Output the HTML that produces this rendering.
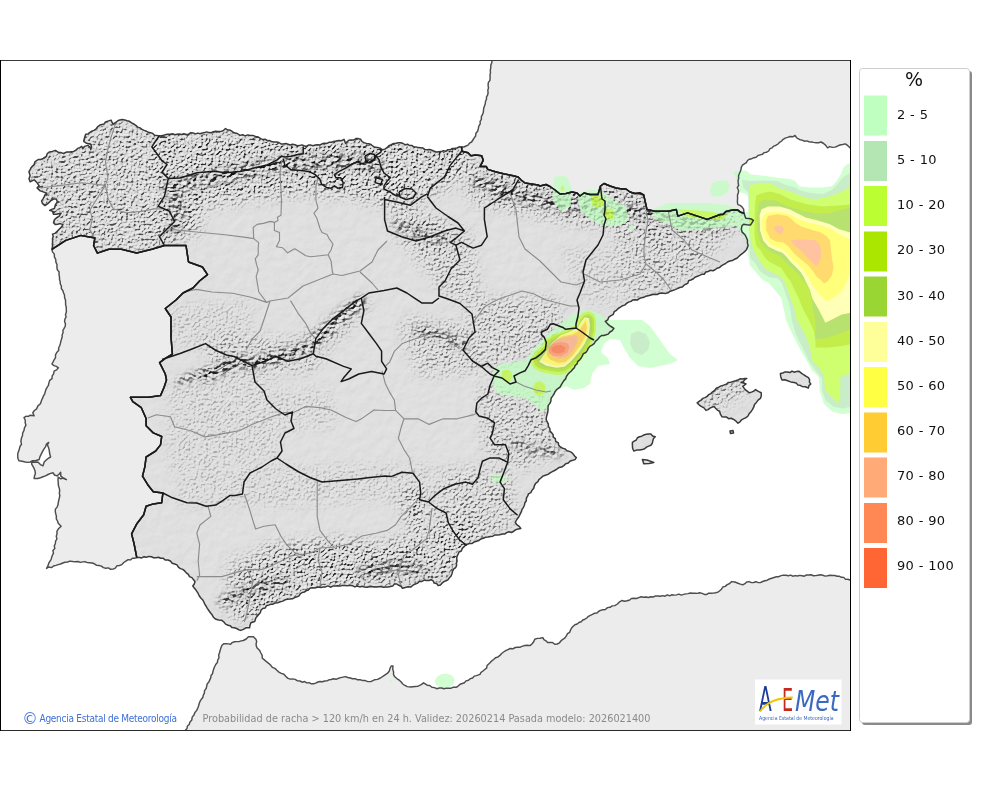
<!DOCTYPE html>
<html><head><meta charset="utf-8"><title>AEMET</title>
<style>
html,body{margin:0;padding:0;background:#fff;width:1000px;height:790px;overflow:hidden}
svg{display:block}
.lt{font-family:"DejaVu Sans",sans-serif;font-size:13px;fill:#111;letter-spacing:0.35px}
.ft{font-family:"DejaVu Sans",sans-serif;font-size:10px}
</style></head><body>
<svg width="1000" height="790" viewBox="0 0 1000 790">
<defs>
<clipPath id="mc"><rect x="1" y="61" width="849" height="669"/></clipPath>
<clipPath id="sc"><path d="M51.9,249.3 L52.5,246.4 L52.4,243.9 L52.6,241.3 L52.5,238.8 L53.2,236.4 L52.5,234.1 L55.4,233.1 L58.2,230.3 L61.1,227.4 L63.0,224.6 L60.1,223.6 L57.8,224.2 L55.4,224.6 L53.5,222.7 L54.4,219.8 L56.3,218.0 L59.2,216.1 L61.1,213.2 L58.7,213.7 L56.3,214.2 L53.5,214.2 L52.5,211.3 L49.7,210.4 L51.6,209.4 L54.4,208.5 L55.4,204.7 L57.3,201.8 L56.3,199.0 L53.5,199.0 L50.6,200.9 L47.8,203.7 L44.9,205.6 L42.6,203.7 L41.6,200.9 L42.9,199.1 L44.0,197.1 L45.0,194.9 L46.8,193.3 L43.2,191.9 L40.2,190.9 L37.1,187.9 L39.2,185.9 L37.1,182.8 L34.1,179.8 L32.1,180.8 L30.1,181.8 L29.0,178.8 L30.1,175.7 L29.0,171.7 L30.2,169.7 L31.1,167.6 L34.1,164.6 L35.1,161.6 L38.2,159.5 L40.8,159.5 L43.2,158.5 L46.3,156.5 L47.3,153.5 L49.5,151.9 L52.3,151.4 L55.4,150.4 L58.4,152.4 L61.0,152.6 L63.5,153.5 L66.3,152.1 L69.5,151.9 L73.6,151.4 L75.9,150.3 L77.6,148.4 L79.8,147.7 L81.7,146.4 L82.7,148.4 L84.7,146.4 L87.8,145.4 L89.9,147.0 L90.8,149.4 L91.6,146.9 L90.8,144.4 L86.7,143.3 L83.7,141.3 L84.7,137.3 L85.7,134.2 L88.1,133.9 L89.9,132.4 L91.8,131.2 L93.9,130.4 L95.9,129.2 L97.5,126.8 L99.9,125.1 L104.0,124.1 L105.5,122.0 L108.0,121.1 L111.0,120.1 L112.0,122.1 L113.1,124.1 L116.1,122.1 L118.9,120.2 L122.2,119.6 L124.7,119.9 L127.0,120.8 L129.5,121.3 L131.6,122.8 L133.7,124.0 L135.8,125.3 L137.6,127.1 L140.0,127.9 L142.0,129.3 L144.2,130.4 L146.3,131.2 L148.3,132.3 L150.6,132.8 L152.8,133.4 L154.5,135.3 L156.9,135.4 L159.2,136.1 L161.4,135.7 L163.6,135.3 L165.8,134.6 L168.0,134.3 L170.3,134.3 L172.5,133.8 L174.8,134.8 L177.0,134.2 L179.3,133.9 L181.6,134.5 L183.9,133.7 L186.3,134.5 L188.6,134.2 L190.8,132.7 L193.1,132.9 L195.5,133.9 L197.8,133.1 L200.1,133.8 L202.4,132.9 L204.6,132.6 L206.7,131.9 L209.0,132.6 L211.2,132.7 L213.4,131.7 L215.6,131.3 L217.8,131.5 L220.0,131.6 L223.1,130.7 L225.5,128.5 L227.4,129.9 L230.0,130.1 L232.1,131.4 L234.0,132.8 L237.3,133.5 L240.0,135.4 L242.6,134.7 L245.1,135.9 L247.7,134.9 L250.2,135.5 L252.8,135.4 L255.5,136.4 L258.3,137.1 L260.8,138.6 L262.9,139.6 L265.4,139.3 L267.5,140.7 L269.9,140.6 L272.0,141.8 L274.3,142.0 L276.6,142.0 L278.9,142.5 L281.0,143.9 L283.4,144.0 L285.8,143.5 L288.0,144.2 L290.2,145.0 L292.6,144.2 L294.9,144.7 L297.1,145.7 L299.4,145.6 L301.8,144.9 L304.0,145.8 L306.3,146.5 L308.5,145.1 L310.8,145.1 L313.2,145.8 L315.4,145.0 L317.7,144.8 L320.0,145.0 L322.1,143.8 L324.4,143.2 L326.9,143.4 L329.0,142.3 L331.5,142.3 L333.7,141.4 L336.0,141.0 L338.7,140.4 L341.5,140.7 L344.0,139.4 L345.6,143.4 L347.2,141.8 L348.8,140.2 L351.2,139.9 L353.7,140.0 L355.9,138.5 L358.4,138.6 L360.7,139.3 L362.1,141.6 L364.1,142.6 L366.4,143.4 L368.8,143.8 L371.0,144.5 L373.0,146.2 L375.1,147.3 L377.6,147.4 L380.2,148.2 L382.4,149.8 L384.9,149.1 L387.0,147.7 L388.8,145.8 L391.3,144.7 L393.6,143.4 L396.0,143.3 L398.4,142.8 L400.8,142.7 L403.2,143.5 L405.1,144.8 L407.6,144.2 L409.5,145.5 L411.8,145.4 L413.7,146.8 L416.0,146.9 L418.2,147.6 L420.6,147.7 L423.0,148.1 L425.0,149.6 L427.4,149.8 L429.8,149.5 L432.0,150.2 L434.2,151.1 L436.4,152.0 L438.8,151.8 L441.1,151.6 L443.3,150.7 L445.8,151.3 L447.8,149.7 L450.2,149.8 L452.3,148.5 L454.7,148.3 L457.0,148.0 L459.1,146.8 L461.6,146.9 L461.9,151.2 L468.0,152.7 L471.0,155.7 L475.6,155.0 L481.7,155.7 L483.2,160.3 L480.2,166.4 L486.2,166.4 L487.8,169.4 L495.3,171.7 L504.5,174.0 L512.1,175.5 L518.1,177.0 L521.2,180.0 L525.0,183.0 L538.0,185.0 L540.0,186.0 L546.0,184.5 L550.0,186.5 L555.0,190.0 L560.0,194.0 L566.0,193.5 L572.0,192.0 L577.0,193.0 L580.0,196.0 L584.0,193.0 L590.0,194.5 L598.0,194.5 L600.5,186.0 L604.0,183.5 L610.0,186.0 L616.0,188.0 L622.0,189.0 L626.0,189.0 L630.0,192.0 L635.0,193.5 L640.0,193.0 L643.7,195.0 L647.0,209.6 L655.1,211.3 L668.1,211.3 L676.3,209.6 L677.9,216.1 L687.6,212.9 L697.4,216.1 L707.2,219.4 L720.2,214.5 L723.0,214.4 L726.1,211.4 L729.9,210.6 L733.7,209.9 L737.5,209.9 L740.5,212.2 L744.0,213.0 L744.7,215.2 L745.8,218.2 L748.9,218.6 L751.2,219.0 L753.4,220.4 L751.9,222.8 L750.4,225.1 L746.6,224.7 L743.6,224.3 L742.0,225.8 L741.3,228.9 L742.0,231.9 L745.1,235.0 L746.6,238.0 L747.5,240.2 L747.4,242.6 L748.1,245.6 L746.6,249.4 L744.8,251.4 L742.8,253.2 L740.8,254.6 L739.0,256.2 L737.0,258.2 L734.4,259.3 L732.3,260.6 L729.8,261.0 L727.5,262.0 L725.6,263.5 L723.4,264.6 L721.3,265.9 L719.4,267.6 L717.0,268.2 L715.1,269.8 L712.9,270.7 L710.2,270.3 L708.2,271.5 L705.8,272.0 L704.2,274.3 L701.7,274.3 L699.6,275.4 L697.4,276.3 L695.0,277.2 L693.1,279.0 L690.8,280.0 L688.6,280.8 L687.8,283.4 L685.7,284.2 L683.8,285.4 L682.3,287.1 L679.7,287.5 L677.4,288.6 L675.0,289.6 L672.6,290.5 L670.1,291.2 L668.0,292.8 L665.8,293.4 L663.5,293.2 L661.3,293.1 L659.1,293.5 L657.0,294.5 L654.7,294.3 L652.4,294.5 L650.3,295.3 L648.1,295.7 L645.9,296.2 L643.9,297.3 L641.6,297.7 L639.5,298.4 L637.6,299.9 L635.2,299.8 L632.9,299.9 L631.0,301.4 L628.6,302.1 L626.6,303.4 L624.7,305.1 L622.3,305.8 L620.3,307.2 L618.2,308.5 L616.5,310.3 L614.2,311.7 L613.3,314.3 L611.0,315.6 L608.8,317.2 L607.7,319.9 L605.3,321.3 L607.3,323.6 L609.6,325.6 L611.8,327.0 L613.9,328.4 L612.3,330.6 L609.9,332.0 L608.2,334.1 L606.1,334.8 L603.8,335.4 L601.5,335.6 L599.6,337.0 L597.8,339.4 L595.4,341.3 L594.1,343.6 L592.0,345.1 L589.8,346.4 L588.2,348.4 L587.2,350.6 L585.8,352.5 L583.4,353.7 L582.3,355.8 L581.2,358.0 L579.7,359.8 L577.8,361.3 L577.1,363.8 L575.2,365.3 L574.4,367.7 L572.6,369.4 L571.1,371.2 L569.3,372.8 L567.7,374.6 L566.4,376.5 L565.6,378.9 L563.9,380.6 L562.6,382.6 L561.4,384.7 L560.2,386.8 L558.3,388.3 L556.4,389.9 L555.0,391.8 L554.0,394.0 L552.6,396.1 L551.1,398.2 L550.9,401.0 L549.9,403.4 L548.3,405.4 L548.0,407.8 L548.0,410.2 L547.7,412.5 L547.0,414.8 L546.4,417.1 L546.2,419.5 L547.1,421.7 L548.3,423.8 L548.4,426.4 L549.8,428.4 L550.0,430.9 L551.6,432.8 L553.1,434.7 L553.3,437.2 L555.3,438.7 L555.7,441.5 L558.2,442.6 L558.7,445.2 L560.4,447.0 L562.6,448.2 L565.0,448.9 L566.9,450.7 L569.3,451.4 L571.6,452.4 L573.2,454.1 L574.6,456.0 L576.3,457.6 L575.0,459.6 L572.8,460.3 L570.2,461.0 L568.3,463.0 L565.7,463.8 L563.8,465.6 L561.6,467.1 L558.9,467.6 L556.8,469.1 L554.6,470.5 L552.3,471.6 L550.1,472.9 L548.0,474.4 L545.4,475.2 L542.9,476.1 L540.9,478.0 L538.9,479.6 L537.7,481.9 L535.6,483.3 L534.4,485.7 L533.7,488.3 L532.0,490.4 L530.8,492.7 L528.5,493.9 L527.6,496.1 L526.4,498.2 L526.3,500.8 L524.9,502.8 L524.4,505.2 L523.4,507.3 L522.0,509.4 L521.4,511.7 L520.0,514.3 L518.7,517.0 L516.8,519.5 L515.2,522.3 L516.8,524.6 L519.1,526.3 L520.8,528.4 L518.2,528.9 L515.8,529.7 L513.6,531.3 L511.5,532.5 L508.9,531.7 L506.7,532.6 L504.6,534.1 L502.2,534.1 L499.8,534.7 L497.4,534.9 L495.0,534.9 L492.8,536.2 L490.3,536.4 L488.0,537.0 L485.5,537.3 L483.3,538.3 L480.9,538.9 L478.9,540.5 L476.6,541.3 L474.2,541.9 L472.2,543.4 L469.6,543.5 L467.3,544.2 L465.2,545.5 L463.6,547.1 L462.1,548.7 L461.3,551.0 L459.0,552.0 L458.1,554.1 L457.0,556.3 L456.7,558.6 L457.1,560.9 L456.4,563.2 L456.6,565.5 L455.6,567.7 L453.6,569.2 L452.5,571.3 L452.0,573.7 L451.1,576.0 L449.4,577.7 L448.1,579.7 L446.1,580.8 L443.9,581.6 L442.1,583.1 L440.5,584.9 L438.1,585.4 L436.6,583.6 L434.1,583.1 L433.1,580.8 L431.0,579.7 L428.8,580.5 L426.5,580.6 L424.1,580.1 L422.0,581.5 L419.6,581.2 L417.8,583.1 L415.3,584.0 L413.0,585.2 L411.0,586.9 L408.1,586.8 L405.3,587.5 L402.5,588.3 L401.0,586.3 L398.7,585.4 L396.8,584.0 L394.4,584.0 L392.7,586.1 L390.5,586.6 L388.2,586.9 L385.8,586.9 L383.5,587.2 L381.1,586.5 L378.7,586.7 L376.4,586.9 L374.0,586.9 L371.6,586.4 L369.2,586.8 L366.9,587.2 L364.5,587.1 L362.1,586.3 L359.7,586.9 L357.3,586.0 L354.8,586.9 L352.4,585.7 L350.0,585.3 L347.5,585.8 L345.1,585.5 L342.6,585.4 L340.2,586.1 L337.7,585.8 L335.3,586.0 L332.8,586.1 L330.5,587.2 L327.9,585.9 L325.5,586.9 L323.3,587.1 L321.1,587.5 L318.8,587.0 L316.6,587.6 L314.4,587.9 L312.1,587.8 L309.9,588.3 L308.4,590.1 L306.2,590.7 L304.4,592.1 L302.1,592.5 L300.3,593.8 L299.0,595.9 L297.0,596.8 L294.6,597.6 L292.4,598.8 L289.9,599.1 L287.4,599.2 L285.0,599.8 L282.8,601.1 L280.2,601.8 L277.7,602.7 L275.0,603.0 L273.0,604.2 L270.7,604.2 L268.6,605.1 L266.3,605.8 L265.1,608.1 L262.7,608.5 L261.0,610.1 L260.4,612.4 L258.9,614.2 L257.5,616.0 L255.9,617.7 L254.7,621.5 L250.9,622.8 L250.0,625.2 L249.6,627.8 L245.8,627.8 L243.4,629.4 L240.8,630.4 L238.6,629.7 L236.6,628.5 L234.4,627.8 L232.1,627.6 L230.3,625.8 L228.1,625.3 L225.6,624.1 L223.9,622.0 L221.8,620.3 L218.5,620.0 L215.4,619.0 L213.4,617.2 L212.1,614.8 L210.4,612.7 L208.8,610.5 L207.3,608.3 L206.0,606.0 L204.8,604.1 L203.9,602.0 L202.8,600.0 L200.8,598.0 L199.2,595.7 L198.0,593.2 L196.8,591.3 L195.5,589.4 L194.1,587.7 L192.7,585.9 L194.3,584.0 L195.0,581.5 L193.4,579.6 L191.9,577.6 L189.5,576.6 L188.3,574.3 L186.3,572.8 L184.7,570.9 L182.8,569.4 L180.3,568.6 L178.4,567.2 L177.0,564.9 L174.7,564.0 L172.2,563.2 L170.4,561.0 L168.0,560.0 L165.1,559.9 L163.0,558.2 L160.6,558.3 L158.4,557.3 L156.0,557.7 L153.6,557.7 L151.4,556.8 L148.9,556.4 L146.5,557.2 L144.1,556.7 L141.7,557.9 L139.2,557.6 L136.8,557.6 L134.0,543.5 L131.6,533.9 L136.5,524.3 L143.7,514.7 L146.1,506.3 L153.3,503.9 L161.7,502.7 L162.9,493.0 L153.3,491.8 L148.5,485.8 L142.5,476.2 L144.9,466.6 L146.1,457.0 L155.7,451.0 L160.5,444.9 L161.7,436.5 L153.3,432.9 L146.1,425.7 L146.1,418.5 L141.3,407.7 L132.8,401.6 L130.4,397.3 L148.5,397.3 L160.5,395.6 L164.1,387.2 L166.5,380.0 L165.3,374.0 L159.6,362.6 L165.3,358.4 L172.4,354.1 L171.0,337.0 L171.0,317.0 L165.3,308.5 L176.0,300.0 L183.0,293.0 L193.0,288.0 L199.5,281.0 L207.5,274.6 L202.4,267.0 L188.5,262.0 L186.0,245.5 L164.5,245.5 L151.8,249.3 L136.6,253.1 L121.5,249.3 L108.8,249.3 L97.4,253.1 L93.6,245.5 L94.9,237.9 L81.0,235.4 L65.8,240.4 L51.9,249.3 Z M697.2,402.9 L699.1,401.4 L701.1,400.1 L702.8,398.4 L705.0,397.6 L707.1,396.4 L708.7,394.6 L710.8,393.6 L712.6,391.8 L714.7,390.3 L716.3,388.2 L718.8,387.2 L721.1,385.9 L723.7,385.1 L726.3,384.3 L728.4,382.4 L730.9,382.2 L733.3,381.4 L735.6,380.8 L738.0,380.0 L740.1,378.8 L742.4,378.9 L744.6,378.6 L746.8,378.4 L744.8,379.5 L743.4,381.6 L741.2,382.4 L743.7,383.0 L746.0,384.0 L742.8,386.4 L745.2,389.6 L747.2,391.2 L749.2,392.8 L751.5,392.1 L753.7,391.1 L755.6,389.6 L758.3,391.4 L761.2,392.8 L761.3,395.7 L760.4,398.4 L758.1,400.1 L756.4,402.4 L754.5,404.5 L753.7,407.2 L752.4,409.6 L751.0,411.7 L749.2,413.6 L748.0,416.0 L746.0,417.6 L743.8,418.7 L741.6,419.8 L740.0,421.8 L738.0,423.2 L735.8,420.9 L733.2,419.2 L731.1,418.2 L728.6,418.7 L726.6,417.1 L724.3,417.1 L722.0,416.8 L720.4,414.2 L719.6,411.2 L717.3,410.1 L715.6,408.3 L714.0,406.4 L711.9,407.3 L709.9,408.1 L708.1,409.6 L706.0,410.4 L704.0,407.9 L701.2,406.4 L699.1,404.8 L697.2,402.9 Z M780.4,373.6 L782.8,373.0 L785.1,371.9 L787.6,372.0 L789.9,372.6 L792.0,371.1 L794.4,372.2 L796.6,371.4 L798.8,371.2 L802.0,373.6 L804.1,375.0 L806.2,376.3 L808.4,377.6 L809.6,379.6 L809.4,382.1 L810.8,384.0 L808.9,385.6 L808.4,388.0 L805.3,386.7 L802.0,386.4 L800.1,385.3 L797.7,384.9 L796.2,382.9 L794.0,382.4 L790.7,381.9 L787.6,380.8 L784.9,379.8 L782.0,380.0 L780.8,376.9 L780.4,373.6 Z M632.4,442.4 L634.2,441.1 L636.3,440.0 L637.4,437.7 L639.5,436.7 L641.8,436.2 L643.9,434.9 L646.2,434.3 L648.5,434.0 L650.9,433.9 L652.6,436.0 L655.2,436.7 L653.5,438.5 L652.8,440.9 L652.3,443.3 L650.9,445.3 L648.7,446.1 L646.5,447.1 L644.6,448.7 L642.4,449.6 L639.5,449.9 L636.6,450.1 L633.8,451.0 L632.6,448.3 L632.4,445.3 L632.4,442.4 Z M642.4,459.5 L647.0,460.0 L653.8,462.4 L649.0,463.5 L643.8,463.8 Z M730.0,431.0 L733.0,430.5 L733.5,433.0 L730.5,433.5 Z"/></clipPath>
<filter id="relief" x="0" y="60" width="850" height="670" filterUnits="userSpaceOnUse" color-interpolation-filters="sRGB">
 <feTurbulence type="fractalNoise" baseFrequency="0.4" numOctaves="3" seed="2"/>
 <feDiffuseLighting surfaceScale="4" diffuseConstant="1" lighting-color="#fff"><feDistantLight azimuth="235" elevation="45"/></feDiffuseLighting>
 <feComponentTransfer><feFuncR type="table" tableValues="0.15 0.5 0.76 0.84 0.88 0.94"/><feFuncG type="table" tableValues="0.15 0.5 0.76 0.84 0.88 0.94"/><feFuncB type="table" tableValues="0.15 0.5 0.76 0.84 0.88 0.94"/></feComponentTransfer>
</filter>
<filter id="relief2" x="0" y="60" width="850" height="670" filterUnits="userSpaceOnUse" color-interpolation-filters="sRGB">
 <feTurbulence type="fractalNoise" baseFrequency="0.1" numOctaves="4" seed="5"/>
 <feDiffuseLighting surfaceScale="1.2" diffuseConstant="1" lighting-color="#fff"><feDistantLight azimuth="235" elevation="55"/></feDiffuseLighting>
 <feComponentTransfer><feFuncR type="table" tableValues="0.6 0.8 0.84 0.87 0.9"/><feFuncG type="table" tableValues="0.6 0.8 0.84 0.87 0.9"/><feFuncB type="table" tableValues="0.6 0.8 0.84 0.87 0.9"/></feComponentTransfer>
</filter>
<filter id="relief3" x="0" y="60" width="850" height="670" filterUnits="userSpaceOnUse" color-interpolation-filters="sRGB">
 <feTurbulence type="fractalNoise" baseFrequency="0.2 0.3" numOctaves="4" seed="9"/>
 <feDiffuseLighting surfaceScale="5" diffuseConstant="1" lighting-color="#fff"><feDistantLight azimuth="235" elevation="40"/></feDiffuseLighting>
 <feComponentTransfer><feFuncR type="table" tableValues="0.05 0.3 0.6 0.78 0.88 0.95"/><feFuncG type="table" tableValues="0.05 0.3 0.6 0.78 0.88 0.95"/><feFuncB type="table" tableValues="0.05 0.3 0.6 0.78 0.88 0.95"/></feComponentTransfer>
</filter>
<filter id="blur3" x="-20%" y="-20%" width="140%" height="140%"><feGaussianBlur stdDeviation="3"/></filter>
<mask id="ridge" maskUnits="userSpaceOnUse" x="0" y="60" width="850" height="670"><rect x="0" y="60" width="850" height="670" fill="#000"/><g filter="url(#blur3)"><path d="M206.0,378.0 L222.0,367.0 L240.0,362.0 L256.0,363.0 L274.0,358.0 L294.0,353.0 L310.0,346.0 L326.0,331.0 L342.0,316.0 L360.0,302.0" fill="none" stroke="#fff" stroke-width="11" stroke-linecap="round" stroke-linejoin="round"/>
<path d="M180.0,382.0 L198.0,374.0 L215.0,368.0" fill="none" stroke="#fff" stroke-width="6" stroke-linecap="round" stroke-linejoin="round"/>
<path d="M170.0,188.0 L200.0,180.0 L230.0,174.0 L260.0,168.0 L290.0,163.0 L320.0,162.0 L350.0,160.0 L378.0,166.0" fill="none" stroke="#fff" stroke-width="12" stroke-linecap="round" stroke-linejoin="round"/>
<path d="M362.0,572.0 L380.0,568.0 L400.0,566.0 L422.0,569.0" fill="none" stroke="#fff" stroke-width="8" stroke-linecap="round" stroke-linejoin="round"/>
<path d="M478.0,182.0 L520.0,196.0 L560.0,205.0 L600.0,207.0 L640.0,212.0 L680.0,222.0 L720.0,224.0" fill="none" stroke="#fff" stroke-width="10" stroke-linecap="round" stroke-linejoin="round"/>
<path d="M222.0,602.0 L240.0,592.0 L262.0,586.0 L285.0,582.0" fill="none" stroke="#fff" stroke-width="8" stroke-linecap="round" stroke-linejoin="round"/>
<path d="M168.0,190.0 L180.0,210.0 L175.0,230.0" fill="none" stroke="#fff" stroke-width="9" stroke-linecap="round" stroke-linejoin="round"/>
<path d="M396.0,225.0 L420.0,234.0 L445.0,240.0" fill="none" stroke="#fff" stroke-width="7" stroke-linecap="round" stroke-linejoin="round"/>
<path d="M418.0,330.0 L440.0,335.0 L465.0,345.0" fill="none" stroke="#fff" stroke-width="7" stroke-linecap="round" stroke-linejoin="round"/>
<path d="M512.0,442.0 L535.0,450.0 L560.0,453.0" fill="none" stroke="#fff" stroke-width="6" stroke-linecap="round" stroke-linejoin="round"/></g></mask>
<filter id="blur6" x="-20%" y="-20%" width="140%" height="140%"><feGaussianBlur stdDeviation="7"/></filter>
<mask id="mtn" maskUnits="userSpaceOnUse" x="0" y="60" width="850" height="670"><rect x="0" y="60" width="850" height="670" fill="#000"/><g filter="url(#blur6)"><path d="M180.0,470.0 L430.0,465.0 L430.0,495.0 L300.0,505.0 L180.0,505.0 Z" fill="#4a4a4a"/>
<path d="M235.0,395.0 L330.0,390.0 L335.0,425.0 L240.0,432.0 Z" fill="#4a4a4a"/>
<path d="M165.0,310.0 L250.0,300.0 L250.0,340.0 L175.0,345.0 Z" fill="#4a4a4a"/>
<path d="M170.0,380.0 L270.0,380.0 L280.0,460.0 L170.0,470.0 Z" fill="#4a4a4a"/>
<path d="M560.0,250.0 L645.0,255.0 L700.0,275.0 L640.0,300.0 L590.0,305.0 Z" fill="#4a4a4a"/>
<path d="M385.0,195.0 L470.0,235.0 L480.0,300.0 L455.0,300.0 L410.0,250.0 Z" fill="#a0a0a0"/>
<path d="M400.0,320.0 L470.0,325.0 L480.0,370.0 L420.0,375.0 Z" fill="#a0a0a0"/>
<path d="M470.0,300.0 L560.0,300.0 L560.0,330.0 L520.0,360.0 L480.0,370.0 Z" fill="#a0a0a0"/>
<path d="M480.0,385.0 L545.0,395.0 L560.0,450.0 L520.0,470.0 L485.0,450.0 Z" fill="#a0a0a0"/>
<path d="M200.0,340.0 L300.0,340.0 L360.0,300.0 L372.0,300.0 L310.0,370.0 L220.0,375.0 Z" fill="#a0a0a0"/>
<path d="M615.0,222.0 L740.0,215.0 L700.0,270.0 L640.0,300.0 L620.0,260.0 Z" fill="#a0a0a0"/>
<path d="M440.0,470.0 L510.0,470.0 L515.0,525.0 L470.0,545.0 L440.0,520.0 Z" fill="#a0a0a0"/>
<path d="M230.0,560.0 L290.0,555.0 L300.0,590.0 L250.0,620.0 L225.0,605.0 Z" fill="#a0a0a0"/>
<path d="M30.0,150.0 L120.0,118.0 L172.0,130.0 L176.0,250.0 L52.0,252.0 L28.0,200.0 Z" fill="#d0d0d0"/>
<path d="M150.0,128.0 L470.0,138.0 L470.0,172.0 L430.0,195.0 L390.0,205.0 L350.0,196.0 L300.0,192.0 L260.0,198.0 L210.0,205.0 L170.0,200.0 Z" fill="#fff"/>
<path d="M160.0,175.0 L205.0,178.0 L198.0,232.0 L168.0,240.0 Z" fill="#fff"/>
<path d="M470.0,165.0 L600.0,185.0 L745.0,205.0 L740.0,228.0 L650.0,230.0 L580.0,222.0 L520.0,210.0 L470.0,200.0 Z" fill="#fff"/>
<path d="M262.0,548.0 L330.0,540.0 L380.0,545.0 L430.0,530.0 L455.0,515.0 L480.0,520.0 L470.0,550.0 L450.0,580.0 L400.0,585.0 L330.0,588.0 L290.0,598.0 L250.0,622.0 L228.0,612.0 L240.0,585.0 Z" fill="#fff"/>
<path d="M400.0,495.0 L425.0,490.0 L435.0,525.0 L410.0,530.0 Z" fill="#fff"/>
<path d="M700.0,395.0 L750.0,378.0 L745.0,392.0 L710.0,408.0 Z" fill="#fff"/>
<path d="M395.0,215.0 L450.0,225.0 L445.0,245.0 L400.0,240.0 Z" fill="#fff"/></g></mask>
<filter id="sb" x="-5%" y="-5%" width="110%" height="110%"><feGaussianBlur stdDeviation="0.5"/></filter>
<filter id="shadow" x="-10%" y="-10%" width="130%" height="130%">
 <feGaussianBlur in="SourceAlpha" stdDeviation="1.2"/>
 <feOffset dx="2" dy="2" result="o"/>
 <feComponentTransfer><feFuncA type="linear" slope="0.6"/></feComponentTransfer>
 <feMerge><feMergeNode/><feMergeNode in="SourceGraphic"/></feMerge>
</filter>
</defs>
<g clip-path="url(#mc)">
<path d="M51.9,249.3 L52.5,251.9 L54.3,254.1 L54.4,256.9 L55.7,259.3 L55.9,262.1 L57.0,264.5 L56.9,267.1 L57.3,269.7 L59.1,271.9 L59.0,274.6 L59.5,277.1 L59.5,279.4 L60.2,281.7 L60.3,284.0 L61.4,286.1 L61.3,288.5 L62.8,290.6 L63.6,292.9 L64.5,295.1 L64.6,297.7 L65.5,300.0 L65.6,302.4 L65.6,304.9 L66.3,307.3 L66.3,309.7 L66.4,312.1 L65.5,314.6 L66.1,317.0 L64.9,319.1 L64.6,321.4 L65.5,324.0 L65.2,326.2 L64.1,328.4 L62.9,330.4 L63.1,332.7 L62.1,334.7 L62.2,337.0 L61.5,339.1 L60.9,341.2 L60.4,343.4 L59.8,345.5 L58.7,347.8 L58.6,350.6 L56.7,352.5 L55.5,354.8 L55.5,357.6 L54.1,359.8 L53.1,361.9 L51.9,364.0 L53.9,365.6 L56.3,366.4 L58.4,367.8 L56.6,369.9 L54.1,371.2 L53.6,373.8 L52.2,375.9 L52.0,378.6 L49.7,380.4 L48.9,382.9 L48.4,385.4 L47.1,387.3 L46.0,389.3 L45.3,391.6 L44.7,393.8 L43.5,395.8 L42.7,397.9 L41.7,400.0 L40.4,403.8 L37.9,405.9 L36.6,408.9 L34.4,410.5 L32.8,412.7 L34.1,415.8 L30.3,415.2 L28.3,416.4 L25.9,416.3 L24.0,417.7 L25.3,420.3 L25.2,422.8 L25.9,425.3 L24.5,427.7 L24.0,430.4 L22.7,432.8 L22.5,435.5 L21.5,438.0 L20.9,441.1 L21.5,444.3 L20.1,446.2 L19.5,448.4 L18.9,450.6 L17.9,453.1 L17.7,455.7 L17.9,458.3 L18.9,460.8 L22.1,461.3 L25.3,462.0 L27.8,462.4 L30.3,462.0 L32.7,460.7 L35.4,460.8 L39.2,459.5 L39.9,456.9 L41.1,454.4 L43.0,450.6 L44.2,448.7 L45.5,446.8 L46.5,444.1 L48.7,442.4 L47.4,444.9 L48.6,447.7 L49.3,450.6 L49.7,453.8 L50.6,457.0 L48.6,458.1 L46.8,459.5 L44.2,462.0 L43.0,465.8 L40.4,464.6 L37.9,462.0 L34.8,462.4 L31.6,462.0 L31.8,464.4 L33.0,466.4 L34.1,468.4 L35.0,470.8 L35.4,473.4 L34.5,475.9 L34.1,478.5 L37.9,478.5 L40.5,477.7 L43.0,476.8 L45.5,475.9 L48.0,474.5 L50.6,473.4 L53.1,472.8 L54.5,475.0 L56.9,475.9 L59.0,474.2 L60.7,472.2 L60.7,475.9 L62.4,477.4 L64.3,478.8 L66.4,479.7 L63.9,478.1 L60.7,478.8 L58.2,477.2 L58.0,479.8 L58.2,482.3 L58.4,485.5 L59.4,488.6 L59.7,490.9 L59.3,493.2 L59.8,495.5 L59.4,497.7 L58.8,500.0 L58.3,502.4 L58.0,504.8 L57.1,507.1 L55.4,509.1 L55.3,511.6 L55.8,514.0 L56.4,516.3 L56.3,518.8 L57.5,521.0 L58.2,523.3 L61.1,526.2 L58.2,529.1 L56.9,531.4 L57.0,533.9 L56.3,536.3 L56.9,539.0 L55.6,541.2 L55.3,543.7 L54.3,545.9 L54.8,548.5 L52.9,550.5 L53.5,553.1 L52.4,555.3 L51.6,557.4 L51.1,559.6 L49.8,561.4 L48.7,563.4 L48.0,565.5 L46.6,568.4 L48.7,567.0 L51.5,567.6 L53.5,566.0 L55.9,565.4 L58.2,564.6 L60.6,564.0 L62.8,563.0 L65.1,562.2 L67.6,562.0 L69.9,561.1 L72.8,561.5 L75.7,561.7 L78.0,561.5 L80.3,562.4 L82.7,561.9 L85.0,561.6 L87.3,562.6 L89.7,562.8 L92.2,563.0 L94.5,563.8 L96.6,565.3 L99.0,565.5 L101.4,566.1 L103.4,567.6 L105.8,568.2 L108.5,567.9 L110.6,569.3 L113.1,569.1 L115.3,568.1 L116.9,565.8 L119.4,565.5 L121.9,564.6 L123.7,562.5 L125.9,561.1 L128.1,559.7 L130.5,559.9 L132.4,558.3 L134.6,558.2 L136.8,557.6 L134.0,543.5 L131.6,533.9 L136.5,524.3 L143.7,514.7 L146.1,506.3 L153.3,503.9 L161.7,502.7 L162.9,493.0 L153.3,491.8 L148.5,485.8 L142.5,476.2 L144.9,466.6 L146.1,457.0 L155.7,451.0 L160.5,444.9 L161.7,436.5 L153.3,432.9 L146.1,425.7 L146.1,418.5 L141.3,407.7 L132.8,401.6 L130.4,397.3 L148.5,397.3 L160.5,395.6 L164.1,387.2 L166.5,380.0 L165.3,374.0 L159.6,362.6 L165.3,358.4 L172.4,354.1 L171.0,337.0 L171.0,317.0 L165.3,308.5 L176.0,300.0 L183.0,293.0 L193.0,288.0 L199.5,281.0 L207.5,274.6 L202.4,267.0 L188.5,262.0 L186.0,245.5 L164.5,245.5 L151.8,249.3 L136.6,253.1 L121.5,249.3 L108.8,249.3 L97.4,253.1 L93.6,245.5 L94.9,237.9 L81.0,235.4 L65.8,240.4 L51.9,249.3 Z M461.6,146.9 L463.9,147.0 L466.0,146.0 L468.0,145.1 L469.5,143.2 L471.6,142.0 L472.9,140.0 L474.2,137.9 L475.6,136.0 L475.9,133.3 L477.6,131.2 L478.3,128.7 L478.8,126.1 L480.2,123.8 L480.1,121.4 L481.4,119.3 L481.3,116.8 L482.4,114.7 L483.3,112.5 L483.5,110.1 L483.8,107.8 L484.7,105.6 L485.3,103.5 L485.5,101.2 L486.5,99.2 L486.5,96.9 L487.7,94.9 L488.1,92.7 L487.8,90.4 L488.5,87.9 L488.1,85.3 L488.3,82.7 L489.9,80.4 L490.1,77.8 L490.0,75.2 L490.5,72.7 L490.3,70.1 L490.8,67.6 L490.8,65.1 L491.8,62.8 L492.0,60.4 L492.3,58.0 L852.0,58.0 L852.0,147.8 L850.0,147.8 L847.8,145.7 L845.4,143.9 L842.6,144.5 L839.9,145.0 L837.3,146.2 L834.9,147.1 L832.5,147.4 L829.8,146.6 L827.5,147.8 L825.8,145.4 L823.6,143.5 L821.0,142.0 L818.6,142.7 L816.1,142.7 L813.7,142.4 L811.3,142.0 L809.0,141.7 L806.8,140.9 L804.3,141.2 L802.2,140.1 L799.9,139.7 L797.0,138.1 L795.0,135.5 L792.7,136.8 L790.0,136.5 L787.6,137.4 L785.2,138.1 L783.2,139.3 L781.6,141.0 L779.6,142.3 L778.0,144.0 L776.1,145.2 L773.8,146.1 L772.2,147.8 L770.0,148.7 L768.7,151.0 L766.7,152.2 L764.2,152.6 L762.5,154.3 L760.3,154.9 L758.0,155.5 L756.2,157.2 L753.9,157.7 L751.8,158.7 L749.5,159.2 L747.5,160.5 L746.4,162.6 L744.4,163.9 L742.4,165.2 L741.3,167.4 L741.0,169.6 L740.2,171.7 L739.3,173.8 L738.5,175.9 L738.7,178.3 L738.1,180.4 L738.2,182.9 L738.6,185.3 L737.3,187.7 L738.5,190.2 L738.4,192.7 L737.5,195.1 L737.6,197.6 L737.5,200.0 L737.4,202.3 L737.9,204.6 L740.1,205.4 L742.0,206.8 L743.6,209.1 L744.0,213.0 L740.5,212.2 L737.5,209.9 L733.7,209.9 L729.9,210.6 L726.1,211.4 L723.0,214.4 L720.2,214.5 L707.2,219.4 L697.4,216.1 L687.6,212.9 L677.9,216.1 L676.3,209.6 L668.1,211.3 L655.1,211.3 L647.0,209.6 L643.7,195.0 L640.0,193.0 L635.0,193.5 L630.0,192.0 L626.0,189.0 L622.0,189.0 L616.0,188.0 L610.0,186.0 L604.0,183.5 L600.5,186.0 L598.0,194.5 L590.0,194.5 L584.0,193.0 L580.0,196.0 L577.0,193.0 L572.0,192.0 L566.0,193.5 L560.0,194.0 L555.0,190.0 L550.0,186.5 L546.0,184.5 L540.0,186.0 L538.0,185.0 L525.0,183.0 L521.2,180.0 L518.1,177.0 L512.1,175.5 L504.5,174.0 L495.3,171.7 L487.8,169.4 L486.2,166.4 L480.2,166.4 L483.2,160.3 L481.7,155.7 L475.6,155.0 L471.0,155.7 L468.0,152.7 L461.9,151.2 L461.6,146.9 Z M184.0,732.0 L185.4,730.2 L187.0,728.5 L187.4,726.0 L189.2,724.5 L190.0,721.9 L191.8,719.9 L192.2,717.1 L194.0,715.0 L194.9,712.5 L196.7,710.4 L197.8,708.0 L198.7,705.5 L199.3,703.3 L200.1,701.2 L201.3,699.3 L202.8,697.5 L203.3,695.2 L204.4,693.2 L204.5,690.6 L206.2,688.5 L206.7,686.1 L207.3,683.7 L208.9,681.9 L209.8,679.9 L210.8,677.8 L211.0,675.5 L212.5,673.7 L213.0,671.4 L213.7,669.0 L214.6,666.7 L215.7,664.5 L217.4,662.5 L217.7,660.0 L219.0,657.8 L218.7,655.1 L219.5,652.7 L220.2,650.3 L220.9,647.9 L221.8,645.6 L223.7,643.7 L226.0,643.7 L228.3,643.9 L230.6,644.3 L232.2,642.6 L234.4,641.8 L236.6,641.6 L238.9,641.6 L241.1,640.9 L243.3,640.5 L246.2,639.0 L248.4,636.7 L250.9,636.8 L253.4,636.7 L255.9,639.2 L256.7,641.4 L256.1,643.7 L256.3,646.0 L257.2,648.1 L259.7,650.6 L260.9,653.0 L262.2,655.4 L262.3,658.2 L264.4,659.9 L266.5,661.7 L268.6,663.3 L270.6,665.1 L272.3,667.3 L274.9,668.4 L276.9,670.3 L278.9,672.1 L281.3,673.4 L283.9,674.2 L285.7,676.3 L287.6,678.1 L290.1,679.1 L292.7,678.9 L295.2,679.4 L297.5,680.9 L300.0,681.0 L302.1,682.2 L304.7,681.5 L306.7,682.9 L309.2,682.7 L311.3,683.8 L313.6,683.7 L315.8,683.1 L317.8,682.0 L320.0,681.5 L322.4,681.8 L324.6,681.0 L326.9,680.9 L329.0,679.8 L331.2,679.5 L333.5,678.8 L336.1,679.3 L338.4,678.3 L340.7,677.6 L343.1,677.1 L345.5,676.6 L347.8,677.5 L350.3,678.0 L352.6,678.8 L355.2,678.6 L357.5,679.8 L360.0,679.8 L362.4,680.4 L364.8,680.4 L367.7,681.6 L370.8,681.6 L374.4,679.8 L377.5,679.4 L380.4,678.0 L384.0,675.6 L387.6,673.2 L389.3,671.0 L390.0,668.4 L391.2,666.0 L393.0,666.0 L392.7,669.1 L393.6,672.0 L393.5,674.6 L394.8,676.8 L397.1,678.8 L399.6,680.4 L401.2,682.0 L402.6,683.8 L404.4,685.2 L407.3,686.6 L410.4,687.0 L412.8,686.7 L415.2,686.5 L417.6,686.4 L421.2,684.6 L423.6,682.8 L427.2,685.2 L429.8,685.5 L431.9,687.2 L434.4,687.6 L436.7,688.7 L439.2,688.0 L441.7,688.0 L444.0,688.8 L446.4,688.1 L448.8,688.3 L451.2,688.2 L453.5,687.1 L456.2,687.3 L458.4,685.8 L460.1,684.2 L462.3,683.5 L464.4,682.8 L466.0,680.9 L468.5,680.2 L470.4,678.6 L472.6,678.0 L474.2,676.1 L476.4,675.6 L480.0,674.4 L481.0,672.3 L483.0,671.0 L484.7,669.5 L486.6,668.2 L487.1,665.6 L488.7,664.0 L490.3,662.5 L491.8,660.8 L493.7,659.5 L495.5,657.7 L498.0,657.0 L499.9,655.4 L501.6,653.5 L503.6,652.0 L505.7,650.7 L507.9,649.6 L510.2,648.5 L512.9,648.8 L515.2,647.5 L517.7,647.3 L520.2,647.2 L522.5,646.1 L525.0,645.5 L527.5,645.2 L530.0,645.6 L532.1,643.8 L533.7,641.7 L534.8,639.2 L537.4,638.4 L540.1,638.2 L542.8,637.6 L543.9,639.7 L546.0,640.8 L547.6,642.4 L550.1,642.4 L552.5,642.5 L554.7,644.3 L557.2,644.0 L559.5,642.8 L561.1,640.7 L563.2,639.2 L565.2,637.6 L566.5,635.7 L567.5,633.6 L569.7,632.3 L570.5,630.1 L571.6,628.0 L573.2,626.3 L574.9,624.7 L577.2,624.0 L578.9,622.5 L581.2,621.7 L582.8,620.0 L584.9,619.2 L586.8,618.0 L588.4,616.3 L590.4,615.3 L592.4,614.4 L594.3,613.3 L596.8,613.1 L598.5,611.5 L600.4,610.4 L602.9,609.8 L605.4,609.5 L607.5,607.6 L610.0,607.3 L612.2,605.9 L614.8,605.6 L617.5,604.0 L619.6,601.8 L621.8,600.5 L624.5,601.3 L626.9,600.8 L629.3,600.2 L631.5,598.5 L633.9,598.3 L636.5,598.5 L638.8,597.6 L641.1,596.8 L643.6,597.2 L646.0,597.0 L648.5,597.5 L650.8,596.7 L653.2,597.0 L655.6,595.9 L658.0,596.0 L660.4,596.3 L662.6,595.6 L665.0,596.2 L667.3,594.8 L669.7,595.8 L671.9,594.7 L674.3,595.1 L676.6,594.9 L678.9,594.1 L681.3,595.1 L683.6,594.4 L685.9,593.9 L688.1,593.6 L690.4,593.0 L692.7,593.2 L695.0,593.2 L697.3,593.4 L699.6,592.8 L702.1,593.4 L704.4,594.4 L706.7,594.4 L708.8,593.1 L711.1,593.3 L713.4,593.1 L715.6,592.8 L717.9,592.1 L719.7,590.7 L721.5,589.2 L722.8,587.0 L725.2,586.4 L727.2,584.6 L729.7,583.5 L731.6,581.6 L734.9,582.0 L738.0,583.2 L740.4,584.1 L742.8,584.8 L744.9,583.7 L746.7,582.0 L749.2,581.6 L751.4,582.6 L753.6,582.5 L756.0,581.7 L758.1,582.6 L760.4,582.6 L762.6,581.5 L764.9,580.8 L767.3,580.2 L769.4,579.0 L771.7,578.2 L774.1,577.5 L776.4,576.8 L778.8,576.7 L781.1,575.6 L783.5,575.1 L786.0,575.2 L788.3,575.7 L790.6,575.1 L792.8,576.2 L795.1,575.6 L797.4,576.0 L799.7,575.4 L802.0,575.8 L804.3,576.2 L806.5,575.0 L808.8,575.0 L811.1,574.8 L813.4,575.7 L815.7,575.6 L818.0,575.2 L820.4,574.8 L822.8,575.3 L825.2,576.1 L827.6,575.8 L830.0,575.2 L832.4,575.5 L834.8,575.5 L837.2,576.2 L839.5,576.3 L841.5,577.3 L843.8,577.4 L845.5,579.4 L847.9,579.3 L850.0,580.0 L852.0,581.0 L852.0,732.0 Z" fill="#ececec"/>
<path d="M51.9,249.3 L52.5,246.4 L52.4,243.9 L52.6,241.3 L52.5,238.8 L53.2,236.4 L52.5,234.1 L55.4,233.1 L58.2,230.3 L61.1,227.4 L63.0,224.6 L60.1,223.6 L57.8,224.2 L55.4,224.6 L53.5,222.7 L54.4,219.8 L56.3,218.0 L59.2,216.1 L61.1,213.2 L58.7,213.7 L56.3,214.2 L53.5,214.2 L52.5,211.3 L49.7,210.4 L51.6,209.4 L54.4,208.5 L55.4,204.7 L57.3,201.8 L56.3,199.0 L53.5,199.0 L50.6,200.9 L47.8,203.7 L44.9,205.6 L42.6,203.7 L41.6,200.9 L42.9,199.1 L44.0,197.1 L45.0,194.9 L46.8,193.3 L43.2,191.9 L40.2,190.9 L37.1,187.9 L39.2,185.9 L37.1,182.8 L34.1,179.8 L32.1,180.8 L30.1,181.8 L29.0,178.8 L30.1,175.7 L29.0,171.7 L30.2,169.7 L31.1,167.6 L34.1,164.6 L35.1,161.6 L38.2,159.5 L40.8,159.5 L43.2,158.5 L46.3,156.5 L47.3,153.5 L49.5,151.9 L52.3,151.4 L55.4,150.4 L58.4,152.4 L61.0,152.6 L63.5,153.5 L66.3,152.1 L69.5,151.9 L73.6,151.4 L75.9,150.3 L77.6,148.4 L79.8,147.7 L81.7,146.4 L82.7,148.4 L84.7,146.4 L87.8,145.4 L89.9,147.0 L90.8,149.4 L91.6,146.9 L90.8,144.4 L86.7,143.3 L83.7,141.3 L84.7,137.3 L85.7,134.2 L88.1,133.9 L89.9,132.4 L91.8,131.2 L93.9,130.4 L95.9,129.2 L97.5,126.8 L99.9,125.1 L104.0,124.1 L105.5,122.0 L108.0,121.1 L111.0,120.1 L112.0,122.1 L113.1,124.1 L116.1,122.1 L118.9,120.2 L122.2,119.6 L124.7,119.9 L127.0,120.8 L129.5,121.3 L131.6,122.8 L133.7,124.0 L135.8,125.3 L137.6,127.1 L140.0,127.9 L142.0,129.3 L144.2,130.4 L146.3,131.2 L148.3,132.3 L150.6,132.8 L152.8,133.4 L154.5,135.3 L156.9,135.4 L159.2,136.1 L161.4,135.7 L163.6,135.3 L165.8,134.6 L168.0,134.3 L170.3,134.3 L172.5,133.8 L174.8,134.8 L177.0,134.2 L179.3,133.9 L181.6,134.5 L183.9,133.7 L186.3,134.5 L188.6,134.2 L190.8,132.7 L193.1,132.9 L195.5,133.9 L197.8,133.1 L200.1,133.8 L202.4,132.9 L204.6,132.6 L206.7,131.9 L209.0,132.6 L211.2,132.7 L213.4,131.7 L215.6,131.3 L217.8,131.5 L220.0,131.6 L223.1,130.7 L225.5,128.5 L227.4,129.9 L230.0,130.1 L232.1,131.4 L234.0,132.8 L237.3,133.5 L240.0,135.4 L242.6,134.7 L245.1,135.9 L247.7,134.9 L250.2,135.5 L252.8,135.4 L255.5,136.4 L258.3,137.1 L260.8,138.6 L262.9,139.6 L265.4,139.3 L267.5,140.7 L269.9,140.6 L272.0,141.8 L274.3,142.0 L276.6,142.0 L278.9,142.5 L281.0,143.9 L283.4,144.0 L285.8,143.5 L288.0,144.2 L290.2,145.0 L292.6,144.2 L294.9,144.7 L297.1,145.7 L299.4,145.6 L301.8,144.9 L304.0,145.8 L306.3,146.5 L308.5,145.1 L310.8,145.1 L313.2,145.8 L315.4,145.0 L317.7,144.8 L320.0,145.0 L322.1,143.8 L324.4,143.2 L326.9,143.4 L329.0,142.3 L331.5,142.3 L333.7,141.4 L336.0,141.0 L338.7,140.4 L341.5,140.7 L344.0,139.4 L345.6,143.4 L347.2,141.8 L348.8,140.2 L351.2,139.9 L353.7,140.0 L355.9,138.5 L358.4,138.6 L360.7,139.3 L362.1,141.6 L364.1,142.6 L366.4,143.4 L368.8,143.8 L371.0,144.5 L373.0,146.2 L375.1,147.3 L377.6,147.4 L380.2,148.2 L382.4,149.8 L384.9,149.1 L387.0,147.7 L388.8,145.8 L391.3,144.7 L393.6,143.4 L396.0,143.3 L398.4,142.8 L400.8,142.7 L403.2,143.5 L405.1,144.8 L407.6,144.2 L409.5,145.5 L411.8,145.4 L413.7,146.8 L416.0,146.9 L418.2,147.6 L420.6,147.7 L423.0,148.1 L425.0,149.6 L427.4,149.8 L429.8,149.5 L432.0,150.2 L434.2,151.1 L436.4,152.0 L438.8,151.8 L441.1,151.6 L443.3,150.7 L445.8,151.3 L447.8,149.7 L450.2,149.8 L452.3,148.5 L454.7,148.3 L457.0,148.0 L459.1,146.8 L461.6,146.9 L461.9,151.2 L468.0,152.7 L471.0,155.7 L475.6,155.0 L481.7,155.7 L483.2,160.3 L480.2,166.4 L486.2,166.4 L487.8,169.4 L495.3,171.7 L504.5,174.0 L512.1,175.5 L518.1,177.0 L521.2,180.0 L525.0,183.0 L538.0,185.0 L540.0,186.0 L546.0,184.5 L550.0,186.5 L555.0,190.0 L560.0,194.0 L566.0,193.5 L572.0,192.0 L577.0,193.0 L580.0,196.0 L584.0,193.0 L590.0,194.5 L598.0,194.5 L600.5,186.0 L604.0,183.5 L610.0,186.0 L616.0,188.0 L622.0,189.0 L626.0,189.0 L630.0,192.0 L635.0,193.5 L640.0,193.0 L643.7,195.0 L647.0,209.6 L655.1,211.3 L668.1,211.3 L676.3,209.6 L677.9,216.1 L687.6,212.9 L697.4,216.1 L707.2,219.4 L720.2,214.5 L723.0,214.4 L726.1,211.4 L729.9,210.6 L733.7,209.9 L737.5,209.9 L740.5,212.2 L744.0,213.0 L744.7,215.2 L745.8,218.2 L748.9,218.6 L751.2,219.0 L753.4,220.4 L751.9,222.8 L750.4,225.1 L746.6,224.7 L743.6,224.3 L742.0,225.8 L741.3,228.9 L742.0,231.9 L745.1,235.0 L746.6,238.0 L747.5,240.2 L747.4,242.6 L748.1,245.6 L746.6,249.4 L744.8,251.4 L742.8,253.2 L740.8,254.6 L739.0,256.2 L737.0,258.2 L734.4,259.3 L732.3,260.6 L729.8,261.0 L727.5,262.0 L725.6,263.5 L723.4,264.6 L721.3,265.9 L719.4,267.6 L717.0,268.2 L715.1,269.8 L712.9,270.7 L710.2,270.3 L708.2,271.5 L705.8,272.0 L704.2,274.3 L701.7,274.3 L699.6,275.4 L697.4,276.3 L695.0,277.2 L693.1,279.0 L690.8,280.0 L688.6,280.8 L687.8,283.4 L685.7,284.2 L683.8,285.4 L682.3,287.1 L679.7,287.5 L677.4,288.6 L675.0,289.6 L672.6,290.5 L670.1,291.2 L668.0,292.8 L665.8,293.4 L663.5,293.2 L661.3,293.1 L659.1,293.5 L657.0,294.5 L654.7,294.3 L652.4,294.5 L650.3,295.3 L648.1,295.7 L645.9,296.2 L643.9,297.3 L641.6,297.7 L639.5,298.4 L637.6,299.9 L635.2,299.8 L632.9,299.9 L631.0,301.4 L628.6,302.1 L626.6,303.4 L624.7,305.1 L622.3,305.8 L620.3,307.2 L618.2,308.5 L616.5,310.3 L614.2,311.7 L613.3,314.3 L611.0,315.6 L608.8,317.2 L607.7,319.9 L605.3,321.3 L607.3,323.6 L609.6,325.6 L611.8,327.0 L613.9,328.4 L612.3,330.6 L609.9,332.0 L608.2,334.1 L606.1,334.8 L603.8,335.4 L601.5,335.6 L599.6,337.0 L597.8,339.4 L595.4,341.3 L594.1,343.6 L592.0,345.1 L589.8,346.4 L588.2,348.4 L587.2,350.6 L585.8,352.5 L583.4,353.7 L582.3,355.8 L581.2,358.0 L579.7,359.8 L577.8,361.3 L577.1,363.8 L575.2,365.3 L574.4,367.7 L572.6,369.4 L571.1,371.2 L569.3,372.8 L567.7,374.6 L566.4,376.5 L565.6,378.9 L563.9,380.6 L562.6,382.6 L561.4,384.7 L560.2,386.8 L558.3,388.3 L556.4,389.9 L555.0,391.8 L554.0,394.0 L552.6,396.1 L551.1,398.2 L550.9,401.0 L549.9,403.4 L548.3,405.4 L548.0,407.8 L548.0,410.2 L547.7,412.5 L547.0,414.8 L546.4,417.1 L546.2,419.5 L547.1,421.7 L548.3,423.8 L548.4,426.4 L549.8,428.4 L550.0,430.9 L551.6,432.8 L553.1,434.7 L553.3,437.2 L555.3,438.7 L555.7,441.5 L558.2,442.6 L558.7,445.2 L560.4,447.0 L562.6,448.2 L565.0,448.9 L566.9,450.7 L569.3,451.4 L571.6,452.4 L573.2,454.1 L574.6,456.0 L576.3,457.6 L575.0,459.6 L572.8,460.3 L570.2,461.0 L568.3,463.0 L565.7,463.8 L563.8,465.6 L561.6,467.1 L558.9,467.6 L556.8,469.1 L554.6,470.5 L552.3,471.6 L550.1,472.9 L548.0,474.4 L545.4,475.2 L542.9,476.1 L540.9,478.0 L538.9,479.6 L537.7,481.9 L535.6,483.3 L534.4,485.7 L533.7,488.3 L532.0,490.4 L530.8,492.7 L528.5,493.9 L527.6,496.1 L526.4,498.2 L526.3,500.8 L524.9,502.8 L524.4,505.2 L523.4,507.3 L522.0,509.4 L521.4,511.7 L520.0,514.3 L518.7,517.0 L516.8,519.5 L515.2,522.3 L516.8,524.6 L519.1,526.3 L520.8,528.4 L518.2,528.9 L515.8,529.7 L513.6,531.3 L511.5,532.5 L508.9,531.7 L506.7,532.6 L504.6,534.1 L502.2,534.1 L499.8,534.7 L497.4,534.9 L495.0,534.9 L492.8,536.2 L490.3,536.4 L488.0,537.0 L485.5,537.3 L483.3,538.3 L480.9,538.9 L478.9,540.5 L476.6,541.3 L474.2,541.9 L472.2,543.4 L469.6,543.5 L467.3,544.2 L465.2,545.5 L463.6,547.1 L462.1,548.7 L461.3,551.0 L459.0,552.0 L458.1,554.1 L457.0,556.3 L456.7,558.6 L457.1,560.9 L456.4,563.2 L456.6,565.5 L455.6,567.7 L453.6,569.2 L452.5,571.3 L452.0,573.7 L451.1,576.0 L449.4,577.7 L448.1,579.7 L446.1,580.8 L443.9,581.6 L442.1,583.1 L440.5,584.9 L438.1,585.4 L436.6,583.6 L434.1,583.1 L433.1,580.8 L431.0,579.7 L428.8,580.5 L426.5,580.6 L424.1,580.1 L422.0,581.5 L419.6,581.2 L417.8,583.1 L415.3,584.0 L413.0,585.2 L411.0,586.9 L408.1,586.8 L405.3,587.5 L402.5,588.3 L401.0,586.3 L398.7,585.4 L396.8,584.0 L394.4,584.0 L392.7,586.1 L390.5,586.6 L388.2,586.9 L385.8,586.9 L383.5,587.2 L381.1,586.5 L378.7,586.7 L376.4,586.9 L374.0,586.9 L371.6,586.4 L369.2,586.8 L366.9,587.2 L364.5,587.1 L362.1,586.3 L359.7,586.9 L357.3,586.0 L354.8,586.9 L352.4,585.7 L350.0,585.3 L347.5,585.8 L345.1,585.5 L342.6,585.4 L340.2,586.1 L337.7,585.8 L335.3,586.0 L332.8,586.1 L330.5,587.2 L327.9,585.9 L325.5,586.9 L323.3,587.1 L321.1,587.5 L318.8,587.0 L316.6,587.6 L314.4,587.9 L312.1,587.8 L309.9,588.3 L308.4,590.1 L306.2,590.7 L304.4,592.1 L302.1,592.5 L300.3,593.8 L299.0,595.9 L297.0,596.8 L294.6,597.6 L292.4,598.8 L289.9,599.1 L287.4,599.2 L285.0,599.8 L282.8,601.1 L280.2,601.8 L277.7,602.7 L275.0,603.0 L273.0,604.2 L270.7,604.2 L268.6,605.1 L266.3,605.8 L265.1,608.1 L262.7,608.5 L261.0,610.1 L260.4,612.4 L258.9,614.2 L257.5,616.0 L255.9,617.7 L254.7,621.5 L250.9,622.8 L250.0,625.2 L249.6,627.8 L245.8,627.8 L243.4,629.4 L240.8,630.4 L238.6,629.7 L236.6,628.5 L234.4,627.8 L232.1,627.6 L230.3,625.8 L228.1,625.3 L225.6,624.1 L223.9,622.0 L221.8,620.3 L218.5,620.0 L215.4,619.0 L213.4,617.2 L212.1,614.8 L210.4,612.7 L208.8,610.5 L207.3,608.3 L206.0,606.0 L204.8,604.1 L203.9,602.0 L202.8,600.0 L200.8,598.0 L199.2,595.7 L198.0,593.2 L196.8,591.3 L195.5,589.4 L194.1,587.7 L192.7,585.9 L194.3,584.0 L195.0,581.5 L193.4,579.6 L191.9,577.6 L189.5,576.6 L188.3,574.3 L186.3,572.8 L184.7,570.9 L182.8,569.4 L180.3,568.6 L178.4,567.2 L177.0,564.9 L174.7,564.0 L172.2,563.2 L170.4,561.0 L168.0,560.0 L165.1,559.9 L163.0,558.2 L160.6,558.3 L158.4,557.3 L156.0,557.7 L153.6,557.7 L151.4,556.8 L148.9,556.4 L146.5,557.2 L144.1,556.7 L141.7,557.9 L139.2,557.6 L136.8,557.6 L134.0,543.5 L131.6,533.9 L136.5,524.3 L143.7,514.7 L146.1,506.3 L153.3,503.9 L161.7,502.7 L162.9,493.0 L153.3,491.8 L148.5,485.8 L142.5,476.2 L144.9,466.6 L146.1,457.0 L155.7,451.0 L160.5,444.9 L161.7,436.5 L153.3,432.9 L146.1,425.7 L146.1,418.5 L141.3,407.7 L132.8,401.6 L130.4,397.3 L148.5,397.3 L160.5,395.6 L164.1,387.2 L166.5,380.0 L165.3,374.0 L159.6,362.6 L165.3,358.4 L172.4,354.1 L171.0,337.0 L171.0,317.0 L165.3,308.5 L176.0,300.0 L183.0,293.0 L193.0,288.0 L199.5,281.0 L207.5,274.6 L202.4,267.0 L188.5,262.0 L186.0,245.5 L164.5,245.5 L151.8,249.3 L136.6,253.1 L121.5,249.3 L108.8,249.3 L97.4,253.1 L93.6,245.5 L94.9,237.9 L81.0,235.4 L65.8,240.4 L51.9,249.3 Z M697.2,402.9 L699.1,401.4 L701.1,400.1 L702.8,398.4 L705.0,397.6 L707.1,396.4 L708.7,394.6 L710.8,393.6 L712.6,391.8 L714.7,390.3 L716.3,388.2 L718.8,387.2 L721.1,385.9 L723.7,385.1 L726.3,384.3 L728.4,382.4 L730.9,382.2 L733.3,381.4 L735.6,380.8 L738.0,380.0 L740.1,378.8 L742.4,378.9 L744.6,378.6 L746.8,378.4 L744.8,379.5 L743.4,381.6 L741.2,382.4 L743.7,383.0 L746.0,384.0 L742.8,386.4 L745.2,389.6 L747.2,391.2 L749.2,392.8 L751.5,392.1 L753.7,391.1 L755.6,389.6 L758.3,391.4 L761.2,392.8 L761.3,395.7 L760.4,398.4 L758.1,400.1 L756.4,402.4 L754.5,404.5 L753.7,407.2 L752.4,409.6 L751.0,411.7 L749.2,413.6 L748.0,416.0 L746.0,417.6 L743.8,418.7 L741.6,419.8 L740.0,421.8 L738.0,423.2 L735.8,420.9 L733.2,419.2 L731.1,418.2 L728.6,418.7 L726.6,417.1 L724.3,417.1 L722.0,416.8 L720.4,414.2 L719.6,411.2 L717.3,410.1 L715.6,408.3 L714.0,406.4 L711.9,407.3 L709.9,408.1 L708.1,409.6 L706.0,410.4 L704.0,407.9 L701.2,406.4 L699.1,404.8 L697.2,402.9 Z M780.4,373.6 L782.8,373.0 L785.1,371.9 L787.6,372.0 L789.9,372.6 L792.0,371.1 L794.4,372.2 L796.6,371.4 L798.8,371.2 L802.0,373.6 L804.1,375.0 L806.2,376.3 L808.4,377.6 L809.6,379.6 L809.4,382.1 L810.8,384.0 L808.9,385.6 L808.4,388.0 L805.3,386.7 L802.0,386.4 L800.1,385.3 L797.7,384.9 L796.2,382.9 L794.0,382.4 L790.7,381.9 L787.6,380.8 L784.9,379.8 L782.0,380.0 L780.8,376.9 L780.4,373.6 Z M632.4,442.4 L634.2,441.1 L636.3,440.0 L637.4,437.7 L639.5,436.7 L641.8,436.2 L643.9,434.9 L646.2,434.3 L648.5,434.0 L650.9,433.9 L652.6,436.0 L655.2,436.7 L653.5,438.5 L652.8,440.9 L652.3,443.3 L650.9,445.3 L648.7,446.1 L646.5,447.1 L644.6,448.7 L642.4,449.6 L639.5,449.9 L636.6,450.1 L633.8,451.0 L632.6,448.3 L632.4,445.3 L632.4,442.4 Z M642.4,459.5 L647.0,460.0 L653.8,462.4 L649.0,463.5 L643.8,463.8 Z M730.0,431.0 L733.0,430.5 L733.5,433.0 L730.5,433.5 Z" fill="#d9d9d9"/>
<g clip-path="url(#sc)"><rect x="0" y="60" width="850" height="670" filter="url(#relief2)"/>
<g mask="url(#mtn)"><rect x="0" y="60" width="850" height="670" filter="url(#relief)"/></g>
<g mask="url(#ridge)"><rect x="0" y="60" width="850" height="670" filter="url(#relief3)"/></g>
<g fill="none" stroke="#222" stroke-linecap="round" opacity="0.55" filter="url(#sb)">
<path d="M213,373 L228,364 L243,356" stroke-width="1.3"/><path d="M221,375 L236,366 L251,359" stroke-width="1"/>
<path d="M262,362 L280,356 L296,352" stroke-width="1"/><path d="M372,570 L390,566 L410,566" stroke-width="1.2"/>
<path d="M376,573 L396,570 L414,571" stroke-width="0.9"/>
</g></g>
<g opacity="0.7"><path d="M733.5,171.9 L738.0,170.6 L745.8,170.6 L751.0,174.5 L764.0,175.8 L777.0,177.8 L790.0,179.0 L795.2,181.0 L799.1,186.2 L809.5,187.5 L822.5,187.5 L831.6,186.2 L836.8,181.0 L840.7,174.5 L843.3,168.0 L847.2,164.1 L849.8,163.5 L860.0,162.0 L860.0,420.0 L850.0,413.3 L841.8,414.1 L832.0,411.6 L823.8,403.4 L819.6,390.3 L818.8,377.1 L812.2,370.5 L805.7,359.0 L799.1,347.5 L792.5,334.3 L785.9,320.0 L784.7,313.0 L782.7,305.8 L781.6,298.7 L778.6,294.7 L772.5,287.6 L768.5,282.5 L763.4,280.5 L759.4,276.5 L754.0,270.0 L749.7,265.3 L748.7,258.2 L747.7,250.1 L746.7,240.0 L742.0,234.0 L737.0,227.0 L733.0,218.0 L735.0,212.0 L748.0,212.0 L748.5,205.0 L748.0,196.0 L745.0,193.5 L739.0,192.0 L738.0,187.5 L737.4,181.0 L734.0,174.5 Z" fill="#bfffbf"/>
<path d="M741.9,179.7 L751.0,181.0 L764.0,180.4 L777.0,181.0 L786.1,184.9 L795.2,187.5 L799.1,190.1 L809.5,192.7 L822.5,194.0 L831.6,190.1 L838.1,183.6 L843.3,177.1 L849.8,173.2 L860.0,172.0 L860.0,410.0 L850.0,406.7 L843.5,408.4 L833.6,406.7 L825.4,400.1 L822.1,390.3 L822.1,378.8 L815.5,370.5 L808.9,360.7 L802.4,347.5 L795.8,334.3 L791.8,320.0 L789.7,305.8 L786.7,296.7 L783.7,288.6 L781.6,282.5 L777.6,278.5 L770.5,277.5 L764.4,274.4 L759.4,270.4 L755.3,263.3 L750.3,258.2 L749.7,250.1 L749.5,240.0 L749.0,225.0 L748.4,192.7 L743.2,187.5 Z" fill="#b3e6b3"/>
<path d="M749.7,186.2 L757.5,183.0 L770.5,183.0 L777.0,187.5 L786.1,190.1 L796.5,194.0 L805.6,197.9 L816.0,199.2 L829.0,196.6 L839.4,192.7 L849.8,187.5 L860.0,186.0 L860.0,372.0 L850.0,372.2 L848.4,373.8 L840.2,377.1 L840.2,398.5 L836.9,403.4 L833.6,398.5 L825.4,390.3 L823.8,375.5 L818.8,367.2 L812.2,360.7 L810.6,350.8 L807.3,339.3 L800.7,326.1 L796.8,320.0 L794.8,309.9 L790.8,298.7 L787.7,290.6 L784.7,282.5 L780.6,276.5 L772.5,272.4 L766.5,269.4 L760.4,262.3 L756.3,255.2 L753.3,250.1 L750.5,240.0 L749.7,220.0 Z" fill="#bbff33"/>
<path d="M756.2,195.3 L764.0,192.7 L770.5,191.4 L779.6,194.0 L790.0,199.2 L797.8,201.8 L808.2,204.4 L822.5,206.4 L835.5,205.7 L849.8,204.4 L860.0,204.0 L860.0,344.0 L850.0,344.2 L841.8,345.9 L828.7,347.5 L815.5,347.5 L815.5,340.9 L813.9,331.1 L809.0,320.0 L802.9,308.9 L798.9,298.7 L794.8,290.6 L790.8,281.5 L786.0,275.5 L781.5,268.0 L775.5,265.0 L769.0,261.5 L764.4,257.0 L760.4,250.1 L756.1,245.6 L754.5,235.4 L754.9,207.0 Z" fill="#aae600"/>
<path d="M758.8,203.1 L764.0,199.9 L774.4,200.5 L783.5,204.4 L792.6,208.3 L803.0,210.9 L816.0,213.5 L829.0,213.5 L842.0,209.6 L849.8,208.3 L860.0,208.0 L860.0,330.0 L850.0,329.4 L841.8,332.7 L828.7,337.6 L815.5,339.3 L815.5,320.0 L813.0,310.0 L810.0,291.0 L807.0,286.0 L802.5,280.0 L799.0,275.0 L795.0,271.0 L790.0,266.5 L785.0,261.0 L779.0,255.5 L772.0,252.5 L765.0,248.0 L760.0,241.0 L757.1,230.4 L757.1,215.2 Z" fill="#99d633"/>
<path d="M761.4,209.6 L767.9,206.4 L779.6,206.4 L790.0,209.6 L797.8,213.5 L805.6,217.4 L816.0,220.0 L830.0,224.3 L838.6,229.1 L850.0,232.4 L860.0,232.0 L860.0,313.0 L850.0,313.0 L841.8,314.6 L832.0,319.5 L825.4,322.8 L818.8,309.7 L812.2,298.2 L810.0,290.0 L806.0,282.0 L803.7,277.0 L800.6,271.9 L795.6,266.8 L790.5,261.8 L786.5,256.7 L782.4,252.7 L776.3,250.6 L768.2,246.6 L763.2,240.5 L760.1,230.4 L759.6,215.2 Z" fill="#ffff99"/>
<path d="M764.0,214.8 L770.5,212.2 L780.9,212.2 L790.0,214.8 L797.8,218.7 L806.7,222.3 L815.8,224.3 L823.9,226.3 L830.0,228.4 L841.8,235.7 L850.0,238.9 L860.0,239.0 L860.0,272.0 L850.0,274.0 L845.1,285.0 L841.8,291.6 L835.3,296.5 L827.0,301.4 L818.8,293.2 L812.2,285.0 L809.7,280.0 L806.7,274.9 L802.7,268.9 L797.6,263.8 L792.5,259.7 L788.5,254.7 L783.4,249.6 L777.3,247.6 L770.3,244.6 L765.2,238.5 L762.2,230.4 L762.0,220.3 Z" fill="#ffff44"/>
<path d="M767.9,216.1 L777.0,214.2 L787.4,216.1 L792.6,220.0 L794.6,222.3 L800.6,226.3 L810.8,229.4 L820.9,232.4 L827.0,236.5 L830.0,240.5 L832.0,258.7 L833.6,266.9 L832.0,275.1 L828.0,281.0 L824.0,283.5 L820.9,280.0 L816.8,277.0 L812.8,270.9 L808.7,265.8 L802.7,260.8 L797.6,256.7 L793.5,252.7 L788.5,246.6 L783.4,242.5 L776.3,241.5 L770.3,238.5 L766.2,230.4 L766.2,220.3 Z" fill="#ffcc33"/>
<path d="M773.3,227.3 L778.4,225.8 L782.4,226.3 L783.9,229.4 L782.4,232.4 L780.4,234.4 L777.3,232.4 L774.3,229.4 Z" fill="#ffaa77"/>
<path d="M790.5,240.5 L798.6,239.5 L808.7,239.5 L815.8,240.5 L819.9,244.6 L820.9,250.6 L820.9,256.7 L818.9,262.8 L815.8,266.8 L812.8,262.8 L806.7,256.7 L800.6,250.6 L794.6,245.6 Z" fill="#ffaa77"/>
<path d="M494.0,368.0 L502.0,364.0 L514.0,362.0 L526.0,360.0 L534.0,348.0 L542.0,340.0 L550.0,332.0 L560.0,324.0 L570.0,316.0 L580.0,311.0 L590.0,310.0 L600.0,314.0 L608.0,320.0 L618.0,320.0 L642.0,320.0 L650.0,326.0 L660.0,340.0 L670.0,354.0 L678.0,360.0 L670.0,364.0 L650.0,368.0 L638.0,366.0 L630.0,358.0 L624.0,348.0 L620.0,340.0 L610.0,339.0 L604.0,344.0 L601.0,352.0 L608.0,358.0 L610.0,364.0 L598.0,366.0 L592.0,374.0 L590.0,384.0 L584.0,388.0 L574.0,390.0 L566.0,386.0 L558.0,390.0 L552.0,398.0 L548.0,408.0 L542.0,412.0 L534.0,404.0 L524.0,398.0 L510.0,396.0 L498.0,394.0 L494.0,386.0 L494.0,376.0 Z" fill="#bfffbf"/>
<path d="M631.0,334.0 L638.0,331.0 L646.0,334.0 L650.0,342.0 L648.0,350.0 L642.0,355.0 L634.0,352.0 L630.0,344.0 Z" fill="#b3e6b3"/>
<path d="M531.1,357.7 L535.2,351.6 L542.3,345.5 L545.3,339.4 L553.4,334.4 L562.5,331.3 L570.6,327.3 L576.7,324.2 L578.7,317.2 L582.8,313.1 L588.9,311.1 L593.9,314.1 L596.0,320.2 L596.0,330.3 L593.9,338.4 L590.9,345.5 L585.8,353.6 L579.8,361.7 L572.7,368.8 L565.6,373.9 L558.5,374.9 L550.4,373.9 L540.3,371.8 L533.2,367.8 L531.1,362.7 Z" fill="#bbff33"/>
<path d="M534.0,358.0 L538.0,352.5 L544.5,346.5 L547.5,340.5 L555.0,336.0 L563.5,333.0 L571.5,329.5 L578.0,326.5 L580.5,319.5 L584.0,315.5 L589.0,314.0 L592.5,316.5 L594.0,321.0 L594.0,330.0 L592.0,337.5 L589.0,344.5 L584.0,352.5 L578.0,360.0 L571.5,366.5 L565.0,371.0 L558.5,372.0 L550.5,371.0 L541.0,369.0 L535.0,365.5 L533.5,362.0 Z" fill="#aae600"/>
<path d="M536.5,359.0 L540.5,353.5 L546.0,348.0 L549.5,342.0 L556.5,337.5 L564.5,334.5 L573.0,331.0 L579.0,328.0 L581.5,321.5 L585.0,317.0 L589.0,316.0 L591.5,318.5 L592.0,322.0 L592.0,329.5 L590.5,336.5 L587.0,343.5 L582.0,351.5 L576.5,358.5 L570.0,364.5 L564.5,368.5 L558.5,369.5 L551.0,368.5 L543.0,367.0 L538.0,364.0 Z" fill="#99d633"/>
<path d="M539.2,361.7 L546.3,351.6 L552.4,342.5 L560.5,335.4 L570.6,331.3 L577.7,328.3 L580.8,322.2 L584.8,317.2 L588.9,318.2 L589.9,325.3 L588.9,334.4 L584.8,343.5 L578.7,352.6 L570.6,361.7 L564.6,366.8 L556.5,367.8 L546.3,365.8 Z" fill="#ffff99"/>
<path d="M542.0,360.0 L548.0,350.5 L553.5,342.0 L561.5,336.0 L571.5,332.5 L578.5,329.5 L582.0,323.5 L585.5,319.0 L587.8,320.0 L588.5,326.0 L587.5,334.5 L583.5,343.0 L577.5,351.5 L569.5,360.0 L563.8,364.5 L556.5,365.5 L548.0,363.5 Z" fill="#ffff44"/>
<path d="M547.3,349.6 L553.4,341.5 L562.5,336.4 L572.7,334.4 L578.7,331.3 L582.8,325.3 L585.8,321.2 L586.8,328.3 L584.8,337.4 L578.7,347.5 L572.7,355.6 L565.6,361.7 L558.5,362.7 L550.4,359.7 L546.5,355.0 Z" fill="#ffcc33"/>
<path d="M549.4,347.5 L555.4,340.4 L565.6,337.4 L573.7,335.4 L577.7,335.4 L576.7,343.5 L572.7,350.6 L566.6,356.7 L558.5,358.7 L551.4,355.6 Z" fill="#ffaa77"/>
<path d="M548.5,348.0 L553.0,343.5 L560.0,342.0 L567.0,343.0 L569.5,346.5 L567.5,352.5 L561.0,356.0 L553.5,356.0 L549.0,353.0 Z" fill="#ff8855"/>
<path d="M551.0,348.5 L555.0,345.5 L561.0,345.0 L565.5,347.5 L564.0,352.0 L558.5,353.5 L553.0,352.5 Z" fill="#ff6633"/>
<path d="M502.0,371.0 L507.0,369.5 L511.5,372.0 L512.5,377.0 L510.0,381.5 L505.0,382.0 L501.5,378.0 Z" fill="#bbff33"/>
<path d="M535.0,383.0 L540.0,381.0 L544.5,384.0 L545.5,389.5 L543.0,395.0 L538.0,396.0 L534.0,392.0 L533.5,387.0 Z" fill="#bbff33"/>
<path d="M554.3,177.1 L562.0,175.5 L567.3,177.1 L572.2,190.1 L570.5,206.4 L560.8,211.3 L554.3,203.1 L552.7,190.1 Z" fill="#bfffbf"/>
<path d="M560.5,186.5 L564.0,186.0 L564.5,190.0 L561.0,191.0 Z" fill="#bbff33"/>
<path d="M577.0,193.4 L590.0,190.1 L599.8,190.1 L612.8,199.9 L625.8,206.4 L629.1,219.4 L619.3,225.9 L603.1,225.9 L590.0,219.4 L580.3,209.6 Z" fill="#bfffbf"/>
<path d="M591.0,196.0 L598.0,194.5 L603.0,198.0 L603.0,205.0 L598.0,208.0 L592.0,205.0 Z" fill="#bbff33"/>
<path d="M605.0,209.0 L611.0,208.5 L614.5,213.0 L613.0,219.0 L607.0,219.5 L604.5,214.0 Z" fill="#bbff33"/>
<path d="M651.9,209.6 L668.1,203.1 L687.6,203.1 L707.2,203.1 L726.7,204.8 L739.7,209.6 L746.2,219.4 L733.2,225.9 L716.9,227.5 L697.4,229.2 L681.1,230.8 L664.9,222.7 L655.1,219.4 Z" fill="#bfffbf"/>
<path d="M677.9,209.6 L692.0,210.0 L707.2,211.3 L726.7,214.5 L723.4,219.4 L707.2,219.4 L684.4,216.1 Z" fill="#bbff33"/>
<path d="M712.0,183.6 L719.0,180.5 L726.7,180.4 L730.0,186.0 L728.0,192.0 L720.2,196.6 L712.0,196.6 L710.0,190.0 Z" fill="#bfffbf"/>
<path d="M629.0,226.0 L632.0,225.0 L634.5,228.0 L632.0,231.0 L629.0,230.0 Z" fill="#bfffbf"/>
<path d="M492.0,476.0 L499.0,474.5 L506.0,476.0 L507.0,480.0 L503.0,483.0 L495.0,482.5 L491.5,479.5 Z" fill="#bfffbf"/>
<path d="M434.6,681.0 L437.0,676.5 L442.0,674.0 L447.0,673.8 L452.0,675.5 L454.8,679.5 L453.5,684.5 L448.0,687.5 L441.0,687.8 L436.0,685.0 Z" fill="#bfffbf"/>
<path d="M389.0,681.0 L390.6,679.0 L392.2,681.0 L390.6,683.0 Z" fill="#bfffbf"/></g>
<path d="M115.8,123.0 L110.6,138.6 L108.0,149.0 L105.4,162.0 L108.0,177.6 L105.4,185.4 M40.4,188.0 L61.2,185.4 L82.0,182.8 L105.4,185.4 M105.4,185.4 L108.0,198.4 L113.2,208.8 L126.2,212.7 L141.8,211.4 L154.8,208.8 L162.6,208.8 M105.4,185.4 L98.0,197.0 L90.0,210.0 L92.4,219.2 L89.8,229.6 L94.5,237.9 M173.0,229.6 L199.0,232.2 L225.0,234.8 L245.8,237.4 L253.7,238.6 M282.0,160.0 L280.0,172.0 L281.0,190.0 L281.5,200.0 L281.0,215.3 L277.4,217.3 L278.0,220.4 L274.4,222.4 L270.4,221.4 L263.3,223.4 L257.2,224.4 L253.2,227.5 L253.7,238.6 M253.7,238.6 L258.7,242.6 L258.2,247.7 L258.2,254.8 L255.2,258.8 L256.7,264.9 L258.2,270.0 L256.2,276.4 L258.8,292.0 L266.6,302.4 M184.0,292.0 L196.4,289.4 L212.0,292.0 L232.8,293.3 L251.0,297.2 L266.6,302.4 L270.0,301.0 L288.0,298.0 L303.0,286.0 L318.0,280.0 L333.0,274.0 M274.4,222.4 L274.4,230.5 L279.5,232.5 L279.5,240.6 L276.4,246.7 L282.5,247.7 L287.6,252.8 L294.7,248.7 L299.7,251.7 L305.8,255.8 L310.9,256.8 L320.0,255.8 L328.1,254.8 L331.1,260.9 L332.1,270.0 L333.0,274.0 M318.0,178.0 L316.0,186.0 L315.9,200.1 L318.0,208.2 L313.9,213.3 L316.9,218.3 L320.0,228.5 L322.0,232.5 L327.0,234.5 L329.1,238.6 L333.0,244.0 L331.0,250.0 L328.1,254.8 M333.0,274.0 L342.0,275.5 L360.0,271.0 L372.0,262.0 L378.0,250.0 L384.0,244.0 L387.0,241.0 M360.0,272.0 L372.0,283.0 L378.0,290.0 M270.0,301.0 L265.2,315.8 L260.1,331.0 L252.5,338.6 L246.0,350.0 M290.5,300.6 L298.1,313.3 L305.7,323.4 L310.7,333.5 L315.8,338.6 M148.0,418.0 L156.3,414.7 L170.5,416.7 L174.5,426.8 L190.7,430.8 L204.9,436.9 L217.0,434.9 L227.1,432.9 L239.3,430.8 L251.4,424.8 L261.6,420.7 L271.7,416.7 L283.8,412.6 L291.9,412.6 M292.0,413.2 L305.6,406.4 L320.0,407.6 L331.0,410.0 L346.0,417.5 L356.0,421.5 L362.0,418.4 L374.0,410.0 L385.0,410.5 L395.6,410.4 M382.1,371.1 L385.2,383.2 L389.7,392.4 L394.3,400.0 L395.6,410.4 L404.0,418.8 L401.2,427.2 L398.4,438.4 L404.0,449.6 L409.6,458.0 L412.4,472.0 M404.0,418.8 L418.0,418.8 L429.2,424.4 L443.2,418.8 L457.2,418.8 L474.0,414.6 L476.8,413.2 M385.5,366.0 L389.7,362.0 L394.3,351.4 L401.9,343.8 L409.5,340.7 L418.6,337.7 L427.7,334.7 L436.8,333.1 L445.9,334.7 L452.0,337.7 L455.0,345.3 L459.6,349.1 M510.0,193.0 L516.0,210.0 L519.0,237.0 L525.0,249.0 L540.0,261.0 L552.0,273.0 L561.0,282.0 L576.0,285.0 L584.0,282.0 M473.2,322.5 L483.9,307.3 L491.5,302.8 L500.6,298.2 L510.0,295.2 L522.0,291.0 L534.0,294.0 L546.0,300.0 L558.0,303.0 L570.0,306.0 L578.0,306.0 M646.0,210.0 L648.0,220.0 L646.0,232.0 L644.0,246.0 L644.0,256.0 L646.0,264.0 M584.0,274.0 L600.0,282.0 L620.0,280.0 L640.0,274.0 L646.0,264.0 M668.0,210.0 L672.0,230.0 L684.0,240.0 L692.0,250.0 L710.0,258.0 L720.0,262.0 M646.0,264.0 L656.0,272.0 L664.0,280.0 L671.0,290.0 M516.0,382.0 L524.0,386.0 L536.0,390.0 L546.0,392.0 L551.0,391.0 M208.0,506.0 L210.8,516.4 L200.0,525.0 L196.8,533.2 L199.6,544.4 L198.2,561.2 L199.6,575.2 L196.8,580.8 M244.4,494.0 L250.0,510.8 L254.2,524.8 L255.6,529.0 L264.0,526.2 L275.2,524.8 L280.8,536.0 L286.4,544.4 L294.8,552.8 L303.2,555.6 M196.8,576.6 L222.0,576.6 L236.0,572.4 L247.2,569.6 L261.2,569.6 L269.6,566.8 L280.8,561.2 L292.0,555.6 L303.2,554.2 M247.2,569.6 L252.8,580.8 L250.0,597.6 L247.2,611.6 L244.4,622.0 M317.2,480.0 L317.2,496.8 L317.2,516.4 L320.0,530.4 L328.4,541.6 L334.0,547.2 M334.0,547.2 L348.0,544.4 L362.0,536.0 L376.0,533.2 L387.2,530.4 L395.6,524.8 L401.2,516.4 L412.4,505.2 L418.0,499.6 M303.2,554.2 L311.6,552.8 L320.0,548.0 L334.0,547.2 M320.0,548.0 L318.0,560.0 L322.0,572.0 L320.0,586.0 M432.0,508.0 L429.2,530.4 L426.4,538.8 L412.4,550.0 L404.0,555.6 L401.2,564.0 L398.4,575.2 L401.2,586.4" fill="none" stroke="#8c8c8c" stroke-width="1.15" stroke-linejoin="round"/>
<path d="M51.9,249.3 L52.5,251.9 L54.3,254.1 L54.4,256.9 L55.7,259.3 L55.9,262.1 L57.0,264.5 L56.9,267.1 L57.3,269.7 L59.1,271.9 L59.0,274.6 L59.5,277.1 L59.5,279.4 L60.2,281.7 L60.3,284.0 L61.4,286.1 L61.3,288.5 L62.8,290.6 L63.6,292.9 L64.5,295.1 L64.6,297.7 L65.5,300.0 L65.6,302.4 L65.6,304.9 L66.3,307.3 L66.3,309.7 L66.4,312.1 L65.5,314.6 L66.1,317.0 L64.9,319.1 L64.6,321.4 L65.5,324.0 L65.2,326.2 L64.1,328.4 L62.9,330.4 L63.1,332.7 L62.1,334.7 L62.2,337.0 L61.5,339.1 L60.9,341.2 L60.4,343.4 L59.8,345.5 L58.7,347.8 L58.6,350.6 L56.7,352.5 L55.5,354.8 L55.5,357.6 L54.1,359.8 L53.1,361.9 L51.9,364.0 L53.9,365.6 L56.3,366.4 L58.4,367.8 L56.6,369.9 L54.1,371.2 L53.6,373.8 L52.2,375.9 L52.0,378.6 L49.7,380.4 L48.9,382.9 L48.4,385.4 L47.1,387.3 L46.0,389.3 L45.3,391.6 L44.7,393.8 L43.5,395.8 L42.7,397.9 L41.7,400.0 L40.4,403.8 L37.9,405.9 L36.6,408.9 L34.4,410.5 L32.8,412.7 L34.1,415.8 L30.3,415.2 L28.3,416.4 L25.9,416.3 L24.0,417.7 L25.3,420.3 L25.2,422.8 L25.9,425.3 L24.5,427.7 L24.0,430.4 L22.7,432.8 L22.5,435.5 L21.5,438.0 L20.9,441.1 L21.5,444.3 L20.1,446.2 L19.5,448.4 L18.9,450.6 L17.9,453.1 L17.7,455.7 L17.9,458.3 L18.9,460.8 L22.1,461.3 L25.3,462.0 L27.8,462.4 L30.3,462.0 L32.7,460.7 L35.4,460.8 L39.2,459.5 L39.9,456.9 L41.1,454.4 L43.0,450.6 L44.2,448.7 L45.5,446.8 L46.5,444.1 L48.7,442.4 L47.4,444.9 L48.6,447.7 L49.3,450.6 L49.7,453.8 L50.6,457.0 L48.6,458.1 L46.8,459.5 L44.2,462.0 L43.0,465.8 L40.4,464.6 L37.9,462.0 L34.8,462.4 L31.6,462.0 L31.8,464.4 L33.0,466.4 L34.1,468.4 L35.0,470.8 L35.4,473.4 L34.5,475.9 L34.1,478.5 L37.9,478.5 L40.5,477.7 L43.0,476.8 L45.5,475.9 L48.0,474.5 L50.6,473.4 L53.1,472.8 L54.5,475.0 L56.9,475.9 L59.0,474.2 L60.7,472.2 L60.7,475.9 L62.4,477.4 L64.3,478.8 L66.4,479.7 L63.9,478.1 L60.7,478.8 L58.2,477.2 L58.0,479.8 L58.2,482.3 L58.4,485.5 L59.4,488.6 L59.7,490.9 L59.3,493.2 L59.8,495.5 L59.4,497.7 L58.8,500.0 L58.3,502.4 L58.0,504.8 L57.1,507.1 L55.4,509.1 L55.3,511.6 L55.8,514.0 L56.4,516.3 L56.3,518.8 L57.5,521.0 L58.2,523.3 L61.1,526.2 L58.2,529.1 L56.9,531.4 L57.0,533.9 L56.3,536.3 L56.9,539.0 L55.6,541.2 L55.3,543.7 L54.3,545.9 L54.8,548.5 L52.9,550.5 L53.5,553.1 L52.4,555.3 L51.6,557.4 L51.1,559.6 L49.8,561.4 L48.7,563.4 L48.0,565.5 L46.6,568.4 L48.7,567.0 L51.5,567.6 L53.5,566.0 L55.9,565.4 L58.2,564.6 L60.6,564.0 L62.8,563.0 L65.1,562.2 L67.6,562.0 L69.9,561.1 L72.8,561.5 L75.7,561.7 L78.0,561.5 L80.3,562.4 L82.7,561.9 L85.0,561.6 L87.3,562.6 L89.7,562.8 L92.2,563.0 L94.5,563.8 L96.6,565.3 L99.0,565.5 L101.4,566.1 L103.4,567.6 L105.8,568.2 L108.5,567.9 L110.6,569.3 L113.1,569.1 L115.3,568.1 L116.9,565.8 L119.4,565.5 L121.9,564.6 L123.7,562.5 L125.9,561.1 L128.1,559.7 L130.5,559.9 L132.4,558.3 L134.6,558.2 L136.8,557.6 L134.0,543.5 L131.6,533.9 L136.5,524.3 L143.7,514.7 L146.1,506.3 L153.3,503.9 L161.7,502.7 L162.9,493.0 L153.3,491.8 L148.5,485.8 L142.5,476.2 L144.9,466.6 L146.1,457.0 L155.7,451.0 L160.5,444.9 L161.7,436.5 L153.3,432.9 L146.1,425.7 L146.1,418.5 L141.3,407.7 L132.8,401.6 L130.4,397.3 L148.5,397.3 L160.5,395.6 L164.1,387.2 L166.5,380.0 L165.3,374.0 L159.6,362.6 L165.3,358.4 L172.4,354.1 L171.0,337.0 L171.0,317.0 L165.3,308.5 L176.0,300.0 L183.0,293.0 L193.0,288.0 L199.5,281.0 L207.5,274.6 L202.4,267.0 L188.5,262.0 L186.0,245.5 L164.5,245.5 L151.8,249.3 L136.6,253.1 L121.5,249.3 L108.8,249.3 L97.4,253.1 L93.6,245.5 L94.9,237.9 L81.0,235.4 L65.8,240.4 L51.9,249.3 Z M461.6,146.9 L463.9,147.0 L466.0,146.0 L468.0,145.1 L469.5,143.2 L471.6,142.0 L472.9,140.0 L474.2,137.9 L475.6,136.0 L475.9,133.3 L477.6,131.2 L478.3,128.7 L478.8,126.1 L480.2,123.8 L480.1,121.4 L481.4,119.3 L481.3,116.8 L482.4,114.7 L483.3,112.5 L483.5,110.1 L483.8,107.8 L484.7,105.6 L485.3,103.5 L485.5,101.2 L486.5,99.2 L486.5,96.9 L487.7,94.9 L488.1,92.7 L487.8,90.4 L488.5,87.9 L488.1,85.3 L488.3,82.7 L489.9,80.4 L490.1,77.8 L490.0,75.2 L490.5,72.7 L490.3,70.1 L490.8,67.6 L490.8,65.1 L491.8,62.8 L492.0,60.4 L492.3,58.0 L852.0,58.0 L852.0,147.8 L850.0,147.8 L847.8,145.7 L845.4,143.9 L842.6,144.5 L839.9,145.0 L837.3,146.2 L834.9,147.1 L832.5,147.4 L829.8,146.6 L827.5,147.8 L825.8,145.4 L823.6,143.5 L821.0,142.0 L818.6,142.7 L816.1,142.7 L813.7,142.4 L811.3,142.0 L809.0,141.7 L806.8,140.9 L804.3,141.2 L802.2,140.1 L799.9,139.7 L797.0,138.1 L795.0,135.5 L792.7,136.8 L790.0,136.5 L787.6,137.4 L785.2,138.1 L783.2,139.3 L781.6,141.0 L779.6,142.3 L778.0,144.0 L776.1,145.2 L773.8,146.1 L772.2,147.8 L770.0,148.7 L768.7,151.0 L766.7,152.2 L764.2,152.6 L762.5,154.3 L760.3,154.9 L758.0,155.5 L756.2,157.2 L753.9,157.7 L751.8,158.7 L749.5,159.2 L747.5,160.5 L746.4,162.6 L744.4,163.9 L742.4,165.2 L741.3,167.4 L741.0,169.6 L740.2,171.7 L739.3,173.8 L738.5,175.9 L738.7,178.3 L738.1,180.4 L738.2,182.9 L738.6,185.3 L737.3,187.7 L738.5,190.2 L738.4,192.7 L737.5,195.1 L737.6,197.6 L737.5,200.0 L737.4,202.3 L737.9,204.6 L740.1,205.4 L742.0,206.8 L743.6,209.1 L744.0,213.0 L740.5,212.2 L737.5,209.9 L733.7,209.9 L729.9,210.6 L726.1,211.4 L723.0,214.4 L720.2,214.5 L707.2,219.4 L697.4,216.1 L687.6,212.9 L677.9,216.1 L676.3,209.6 L668.1,211.3 L655.1,211.3 L647.0,209.6 L643.7,195.0 L640.0,193.0 L635.0,193.5 L630.0,192.0 L626.0,189.0 L622.0,189.0 L616.0,188.0 L610.0,186.0 L604.0,183.5 L600.5,186.0 L598.0,194.5 L590.0,194.5 L584.0,193.0 L580.0,196.0 L577.0,193.0 L572.0,192.0 L566.0,193.5 L560.0,194.0 L555.0,190.0 L550.0,186.5 L546.0,184.5 L540.0,186.0 L538.0,185.0 L525.0,183.0 L521.2,180.0 L518.1,177.0 L512.1,175.5 L504.5,174.0 L495.3,171.7 L487.8,169.4 L486.2,166.4 L480.2,166.4 L483.2,160.3 L481.7,155.7 L475.6,155.0 L471.0,155.7 L468.0,152.7 L461.9,151.2 L461.6,146.9 Z M184.0,732.0 L185.4,730.2 L187.0,728.5 L187.4,726.0 L189.2,724.5 L190.0,721.9 L191.8,719.9 L192.2,717.1 L194.0,715.0 L194.9,712.5 L196.7,710.4 L197.8,708.0 L198.7,705.5 L199.3,703.3 L200.1,701.2 L201.3,699.3 L202.8,697.5 L203.3,695.2 L204.4,693.2 L204.5,690.6 L206.2,688.5 L206.7,686.1 L207.3,683.7 L208.9,681.9 L209.8,679.9 L210.8,677.8 L211.0,675.5 L212.5,673.7 L213.0,671.4 L213.7,669.0 L214.6,666.7 L215.7,664.5 L217.4,662.5 L217.7,660.0 L219.0,657.8 L218.7,655.1 L219.5,652.7 L220.2,650.3 L220.9,647.9 L221.8,645.6 L223.7,643.7 L226.0,643.7 L228.3,643.9 L230.6,644.3 L232.2,642.6 L234.4,641.8 L236.6,641.6 L238.9,641.6 L241.1,640.9 L243.3,640.5 L246.2,639.0 L248.4,636.7 L250.9,636.8 L253.4,636.7 L255.9,639.2 L256.7,641.4 L256.1,643.7 L256.3,646.0 L257.2,648.1 L259.7,650.6 L260.9,653.0 L262.2,655.4 L262.3,658.2 L264.4,659.9 L266.5,661.7 L268.6,663.3 L270.6,665.1 L272.3,667.3 L274.9,668.4 L276.9,670.3 L278.9,672.1 L281.3,673.4 L283.9,674.2 L285.7,676.3 L287.6,678.1 L290.1,679.1 L292.7,678.9 L295.2,679.4 L297.5,680.9 L300.0,681.0 L302.1,682.2 L304.7,681.5 L306.7,682.9 L309.2,682.7 L311.3,683.8 L313.6,683.7 L315.8,683.1 L317.8,682.0 L320.0,681.5 L322.4,681.8 L324.6,681.0 L326.9,680.9 L329.0,679.8 L331.2,679.5 L333.5,678.8 L336.1,679.3 L338.4,678.3 L340.7,677.6 L343.1,677.1 L345.5,676.6 L347.8,677.5 L350.3,678.0 L352.6,678.8 L355.2,678.6 L357.5,679.8 L360.0,679.8 L362.4,680.4 L364.8,680.4 L367.7,681.6 L370.8,681.6 L374.4,679.8 L377.5,679.4 L380.4,678.0 L384.0,675.6 L387.6,673.2 L389.3,671.0 L390.0,668.4 L391.2,666.0 L393.0,666.0 L392.7,669.1 L393.6,672.0 L393.5,674.6 L394.8,676.8 L397.1,678.8 L399.6,680.4 L401.2,682.0 L402.6,683.8 L404.4,685.2 L407.3,686.6 L410.4,687.0 L412.8,686.7 L415.2,686.5 L417.6,686.4 L421.2,684.6 L423.6,682.8 L427.2,685.2 L429.8,685.5 L431.9,687.2 L434.4,687.6 L436.7,688.7 L439.2,688.0 L441.7,688.0 L444.0,688.8 L446.4,688.1 L448.8,688.3 L451.2,688.2 L453.5,687.1 L456.2,687.3 L458.4,685.8 L460.1,684.2 L462.3,683.5 L464.4,682.8 L466.0,680.9 L468.5,680.2 L470.4,678.6 L472.6,678.0 L474.2,676.1 L476.4,675.6 L480.0,674.4 L481.0,672.3 L483.0,671.0 L484.7,669.5 L486.6,668.2 L487.1,665.6 L488.7,664.0 L490.3,662.5 L491.8,660.8 L493.7,659.5 L495.5,657.7 L498.0,657.0 L499.9,655.4 L501.6,653.5 L503.6,652.0 L505.7,650.7 L507.9,649.6 L510.2,648.5 L512.9,648.8 L515.2,647.5 L517.7,647.3 L520.2,647.2 L522.5,646.1 L525.0,645.5 L527.5,645.2 L530.0,645.6 L532.1,643.8 L533.7,641.7 L534.8,639.2 L537.4,638.4 L540.1,638.2 L542.8,637.6 L543.9,639.7 L546.0,640.8 L547.6,642.4 L550.1,642.4 L552.5,642.5 L554.7,644.3 L557.2,644.0 L559.5,642.8 L561.1,640.7 L563.2,639.2 L565.2,637.6 L566.5,635.7 L567.5,633.6 L569.7,632.3 L570.5,630.1 L571.6,628.0 L573.2,626.3 L574.9,624.7 L577.2,624.0 L578.9,622.5 L581.2,621.7 L582.8,620.0 L584.9,619.2 L586.8,618.0 L588.4,616.3 L590.4,615.3 L592.4,614.4 L594.3,613.3 L596.8,613.1 L598.5,611.5 L600.4,610.4 L602.9,609.8 L605.4,609.5 L607.5,607.6 L610.0,607.3 L612.2,605.9 L614.8,605.6 L617.5,604.0 L619.6,601.8 L621.8,600.5 L624.5,601.3 L626.9,600.8 L629.3,600.2 L631.5,598.5 L633.9,598.3 L636.5,598.5 L638.8,597.6 L641.1,596.8 L643.6,597.2 L646.0,597.0 L648.5,597.5 L650.8,596.7 L653.2,597.0 L655.6,595.9 L658.0,596.0 L660.4,596.3 L662.6,595.6 L665.0,596.2 L667.3,594.8 L669.7,595.8 L671.9,594.7 L674.3,595.1 L676.6,594.9 L678.9,594.1 L681.3,595.1 L683.6,594.4 L685.9,593.9 L688.1,593.6 L690.4,593.0 L692.7,593.2 L695.0,593.2 L697.3,593.4 L699.6,592.8 L702.1,593.4 L704.4,594.4 L706.7,594.4 L708.8,593.1 L711.1,593.3 L713.4,593.1 L715.6,592.8 L717.9,592.1 L719.7,590.7 L721.5,589.2 L722.8,587.0 L725.2,586.4 L727.2,584.6 L729.7,583.5 L731.6,581.6 L734.9,582.0 L738.0,583.2 L740.4,584.1 L742.8,584.8 L744.9,583.7 L746.7,582.0 L749.2,581.6 L751.4,582.6 L753.6,582.5 L756.0,581.7 L758.1,582.6 L760.4,582.6 L762.6,581.5 L764.9,580.8 L767.3,580.2 L769.4,579.0 L771.7,578.2 L774.1,577.5 L776.4,576.8 L778.8,576.7 L781.1,575.6 L783.5,575.1 L786.0,575.2 L788.3,575.7 L790.6,575.1 L792.8,576.2 L795.1,575.6 L797.4,576.0 L799.7,575.4 L802.0,575.8 L804.3,576.2 L806.5,575.0 L808.8,575.0 L811.1,574.8 L813.4,575.7 L815.7,575.6 L818.0,575.2 L820.4,574.8 L822.8,575.3 L825.2,576.1 L827.6,575.8 L830.0,575.2 L832.4,575.5 L834.8,575.5 L837.2,576.2 L839.5,576.3 L841.5,577.3 L843.8,577.4 L845.5,579.4 L847.9,579.3 L850.0,580.0 L852.0,581.0 L852.0,732.0 Z" fill="none" stroke="#4d4d4d" stroke-width="1.45" stroke-linejoin="round"/>
<path d="M51.9,249.3 L52.5,246.4 L52.4,243.9 L52.6,241.3 L52.5,238.8 L53.2,236.4 L52.5,234.1 L55.4,233.1 L58.2,230.3 L61.1,227.4 L63.0,224.6 L60.1,223.6 L57.8,224.2 L55.4,224.6 L53.5,222.7 L54.4,219.8 L56.3,218.0 L59.2,216.1 L61.1,213.2 L58.7,213.7 L56.3,214.2 L53.5,214.2 L52.5,211.3 L49.7,210.4 L51.6,209.4 L54.4,208.5 L55.4,204.7 L57.3,201.8 L56.3,199.0 L53.5,199.0 L50.6,200.9 L47.8,203.7 L44.9,205.6 L42.6,203.7 L41.6,200.9 L42.9,199.1 L44.0,197.1 L45.0,194.9 L46.8,193.3 L43.2,191.9 L40.2,190.9 L37.1,187.9 L39.2,185.9 L37.1,182.8 L34.1,179.8 L32.1,180.8 L30.1,181.8 L29.0,178.8 L30.1,175.7 L29.0,171.7 L30.2,169.7 L31.1,167.6 L34.1,164.6 L35.1,161.6 L38.2,159.5 L40.8,159.5 L43.2,158.5 L46.3,156.5 L47.3,153.5 L49.5,151.9 L52.3,151.4 L55.4,150.4 L58.4,152.4 L61.0,152.6 L63.5,153.5 L66.3,152.1 L69.5,151.9 L73.6,151.4 L75.9,150.3 L77.6,148.4 L79.8,147.7 L81.7,146.4 L82.7,148.4 L84.7,146.4 L87.8,145.4 L89.9,147.0 L90.8,149.4 L91.6,146.9 L90.8,144.4 L86.7,143.3 L83.7,141.3 L84.7,137.3 L85.7,134.2 L88.1,133.9 L89.9,132.4 L91.8,131.2 L93.9,130.4 L95.9,129.2 L97.5,126.8 L99.9,125.1 L104.0,124.1 L105.5,122.0 L108.0,121.1 L111.0,120.1 L112.0,122.1 L113.1,124.1 L116.1,122.1 L118.9,120.2 L122.2,119.6 L124.7,119.9 L127.0,120.8 L129.5,121.3 L131.6,122.8 L133.7,124.0 L135.8,125.3 L137.6,127.1 L140.0,127.9 L142.0,129.3 L144.2,130.4 L146.3,131.2 L148.3,132.3 L150.6,132.8 L152.8,133.4 L154.5,135.3 L156.9,135.4 L159.2,136.1 L161.4,135.7 L163.6,135.3 L165.8,134.6 L168.0,134.3 L170.3,134.3 L172.5,133.8 L174.8,134.8 L177.0,134.2 L179.3,133.9 L181.6,134.5 L183.9,133.7 L186.3,134.5 L188.6,134.2 L190.8,132.7 L193.1,132.9 L195.5,133.9 L197.8,133.1 L200.1,133.8 L202.4,132.9 L204.6,132.6 L206.7,131.9 L209.0,132.6 L211.2,132.7 L213.4,131.7 L215.6,131.3 L217.8,131.5 L220.0,131.6 L223.1,130.7 L225.5,128.5 L227.4,129.9 L230.0,130.1 L232.1,131.4 L234.0,132.8 L237.3,133.5 L240.0,135.4 L242.6,134.7 L245.1,135.9 L247.7,134.9 L250.2,135.5 L252.8,135.4 L255.5,136.4 L258.3,137.1 L260.8,138.6 L262.9,139.6 L265.4,139.3 L267.5,140.7 L269.9,140.6 L272.0,141.8 L274.3,142.0 L276.6,142.0 L278.9,142.5 L281.0,143.9 L283.4,144.0 L285.8,143.5 L288.0,144.2 L290.2,145.0 L292.6,144.2 L294.9,144.7 L297.1,145.7 L299.4,145.6 L301.8,144.9 L304.0,145.8 L306.3,146.5 L308.5,145.1 L310.8,145.1 L313.2,145.8 L315.4,145.0 L317.7,144.8 L320.0,145.0 L322.1,143.8 L324.4,143.2 L326.9,143.4 L329.0,142.3 L331.5,142.3 L333.7,141.4 L336.0,141.0 L338.7,140.4 L341.5,140.7 L344.0,139.4 L345.6,143.4 L347.2,141.8 L348.8,140.2 L351.2,139.9 L353.7,140.0 L355.9,138.5 L358.4,138.6 L360.7,139.3 L362.1,141.6 L364.1,142.6 L366.4,143.4 L368.8,143.8 L371.0,144.5 L373.0,146.2 L375.1,147.3 L377.6,147.4 L380.2,148.2 L382.4,149.8 L384.9,149.1 L387.0,147.7 L388.8,145.8 L391.3,144.7 L393.6,143.4 L396.0,143.3 L398.4,142.8 L400.8,142.7 L403.2,143.5 L405.1,144.8 L407.6,144.2 L409.5,145.5 L411.8,145.4 L413.7,146.8 L416.0,146.9 L418.2,147.6 L420.6,147.7 L423.0,148.1 L425.0,149.6 L427.4,149.8 L429.8,149.5 L432.0,150.2 L434.2,151.1 L436.4,152.0 L438.8,151.8 L441.1,151.6 L443.3,150.7 L445.8,151.3 L447.8,149.7 L450.2,149.8 L452.3,148.5 L454.7,148.3 L457.0,148.0 L459.1,146.8 L461.6,146.9 L461.9,151.2 L468.0,152.7 L471.0,155.7 L475.6,155.0 L481.7,155.7 L483.2,160.3 L480.2,166.4 L486.2,166.4 L487.8,169.4 L495.3,171.7 L504.5,174.0 L512.1,175.5 L518.1,177.0 L521.2,180.0 L525.0,183.0 L538.0,185.0 L540.0,186.0 L546.0,184.5 L550.0,186.5 L555.0,190.0 L560.0,194.0 L566.0,193.5 L572.0,192.0 L577.0,193.0 L580.0,196.0 L584.0,193.0 L590.0,194.5 L598.0,194.5 L600.5,186.0 L604.0,183.5 L610.0,186.0 L616.0,188.0 L622.0,189.0 L626.0,189.0 L630.0,192.0 L635.0,193.5 L640.0,193.0 L643.7,195.0 L647.0,209.6 L655.1,211.3 L668.1,211.3 L676.3,209.6 L677.9,216.1 L687.6,212.9 L697.4,216.1 L707.2,219.4 L720.2,214.5 L723.0,214.4 L726.1,211.4 L729.9,210.6 L733.7,209.9 L737.5,209.9 L740.5,212.2 L744.0,213.0 L744.7,215.2 L745.8,218.2 L748.9,218.6 L751.2,219.0 L753.4,220.4 L751.9,222.8 L750.4,225.1 L746.6,224.7 L743.6,224.3 L742.0,225.8 L741.3,228.9 L742.0,231.9 L745.1,235.0 L746.6,238.0 L747.5,240.2 L747.4,242.6 L748.1,245.6 L746.6,249.4 L744.8,251.4 L742.8,253.2 L740.8,254.6 L739.0,256.2 L737.0,258.2 L734.4,259.3 L732.3,260.6 L729.8,261.0 L727.5,262.0 L725.6,263.5 L723.4,264.6 L721.3,265.9 L719.4,267.6 L717.0,268.2 L715.1,269.8 L712.9,270.7 L710.2,270.3 L708.2,271.5 L705.8,272.0 L704.2,274.3 L701.7,274.3 L699.6,275.4 L697.4,276.3 L695.0,277.2 L693.1,279.0 L690.8,280.0 L688.6,280.8 L687.8,283.4 L685.7,284.2 L683.8,285.4 L682.3,287.1 L679.7,287.5 L677.4,288.6 L675.0,289.6 L672.6,290.5 L670.1,291.2 L668.0,292.8 L665.8,293.4 L663.5,293.2 L661.3,293.1 L659.1,293.5 L657.0,294.5 L654.7,294.3 L652.4,294.5 L650.3,295.3 L648.1,295.7 L645.9,296.2 L643.9,297.3 L641.6,297.7 L639.5,298.4 L637.6,299.9 L635.2,299.8 L632.9,299.9 L631.0,301.4 L628.6,302.1 L626.6,303.4 L624.7,305.1 L622.3,305.8 L620.3,307.2 L618.2,308.5 L616.5,310.3 L614.2,311.7 L613.3,314.3 L611.0,315.6 L608.8,317.2 L607.7,319.9 L605.3,321.3 L607.3,323.6 L609.6,325.6 L611.8,327.0 L613.9,328.4 L612.3,330.6 L609.9,332.0 L608.2,334.1 L606.1,334.8 L603.8,335.4 L601.5,335.6 L599.6,337.0 L597.8,339.4 L595.4,341.3 L594.1,343.6 L592.0,345.1 L589.8,346.4 L588.2,348.4 L587.2,350.6 L585.8,352.5 L583.4,353.7 L582.3,355.8 L581.2,358.0 L579.7,359.8 L577.8,361.3 L577.1,363.8 L575.2,365.3 L574.4,367.7 L572.6,369.4 L571.1,371.2 L569.3,372.8 L567.7,374.6 L566.4,376.5 L565.6,378.9 L563.9,380.6 L562.6,382.6 L561.4,384.7 L560.2,386.8 L558.3,388.3 L556.4,389.9 L555.0,391.8 L554.0,394.0 L552.6,396.1 L551.1,398.2 L550.9,401.0 L549.9,403.4 L548.3,405.4 L548.0,407.8 L548.0,410.2 L547.7,412.5 L547.0,414.8 L546.4,417.1 L546.2,419.5 L547.1,421.7 L548.3,423.8 L548.4,426.4 L549.8,428.4 L550.0,430.9 L551.6,432.8 L553.1,434.7 L553.3,437.2 L555.3,438.7 L555.7,441.5 L558.2,442.6 L558.7,445.2 L560.4,447.0 L562.6,448.2 L565.0,448.9 L566.9,450.7 L569.3,451.4 L571.6,452.4 L573.2,454.1 L574.6,456.0 L576.3,457.6 L575.0,459.6 L572.8,460.3 L570.2,461.0 L568.3,463.0 L565.7,463.8 L563.8,465.6 L561.6,467.1 L558.9,467.6 L556.8,469.1 L554.6,470.5 L552.3,471.6 L550.1,472.9 L548.0,474.4 L545.4,475.2 L542.9,476.1 L540.9,478.0 L538.9,479.6 L537.7,481.9 L535.6,483.3 L534.4,485.7 L533.7,488.3 L532.0,490.4 L530.8,492.7 L528.5,493.9 L527.6,496.1 L526.4,498.2 L526.3,500.8 L524.9,502.8 L524.4,505.2 L523.4,507.3 L522.0,509.4 L521.4,511.7 L520.0,514.3 L518.7,517.0 L516.8,519.5 L515.2,522.3 L516.8,524.6 L519.1,526.3 L520.8,528.4 L518.2,528.9 L515.8,529.7 L513.6,531.3 L511.5,532.5 L508.9,531.7 L506.7,532.6 L504.6,534.1 L502.2,534.1 L499.8,534.7 L497.4,534.9 L495.0,534.9 L492.8,536.2 L490.3,536.4 L488.0,537.0 L485.5,537.3 L483.3,538.3 L480.9,538.9 L478.9,540.5 L476.6,541.3 L474.2,541.9 L472.2,543.4 L469.6,543.5 L467.3,544.2 L465.2,545.5 L463.6,547.1 L462.1,548.7 L461.3,551.0 L459.0,552.0 L458.1,554.1 L457.0,556.3 L456.7,558.6 L457.1,560.9 L456.4,563.2 L456.6,565.5 L455.6,567.7 L453.6,569.2 L452.5,571.3 L452.0,573.7 L451.1,576.0 L449.4,577.7 L448.1,579.7 L446.1,580.8 L443.9,581.6 L442.1,583.1 L440.5,584.9 L438.1,585.4 L436.6,583.6 L434.1,583.1 L433.1,580.8 L431.0,579.7 L428.8,580.5 L426.5,580.6 L424.1,580.1 L422.0,581.5 L419.6,581.2 L417.8,583.1 L415.3,584.0 L413.0,585.2 L411.0,586.9 L408.1,586.8 L405.3,587.5 L402.5,588.3 L401.0,586.3 L398.7,585.4 L396.8,584.0 L394.4,584.0 L392.7,586.1 L390.5,586.6 L388.2,586.9 L385.8,586.9 L383.5,587.2 L381.1,586.5 L378.7,586.7 L376.4,586.9 L374.0,586.9 L371.6,586.4 L369.2,586.8 L366.9,587.2 L364.5,587.1 L362.1,586.3 L359.7,586.9 L357.3,586.0 L354.8,586.9 L352.4,585.7 L350.0,585.3 L347.5,585.8 L345.1,585.5 L342.6,585.4 L340.2,586.1 L337.7,585.8 L335.3,586.0 L332.8,586.1 L330.5,587.2 L327.9,585.9 L325.5,586.9 L323.3,587.1 L321.1,587.5 L318.8,587.0 L316.6,587.6 L314.4,587.9 L312.1,587.8 L309.9,588.3 L308.4,590.1 L306.2,590.7 L304.4,592.1 L302.1,592.5 L300.3,593.8 L299.0,595.9 L297.0,596.8 L294.6,597.6 L292.4,598.8 L289.9,599.1 L287.4,599.2 L285.0,599.8 L282.8,601.1 L280.2,601.8 L277.7,602.7 L275.0,603.0 L273.0,604.2 L270.7,604.2 L268.6,605.1 L266.3,605.8 L265.1,608.1 L262.7,608.5 L261.0,610.1 L260.4,612.4 L258.9,614.2 L257.5,616.0 L255.9,617.7 L254.7,621.5 L250.9,622.8 L250.0,625.2 L249.6,627.8 L245.8,627.8 L243.4,629.4 L240.8,630.4 L238.6,629.7 L236.6,628.5 L234.4,627.8 L232.1,627.6 L230.3,625.8 L228.1,625.3 L225.6,624.1 L223.9,622.0 L221.8,620.3 L218.5,620.0 L215.4,619.0 L213.4,617.2 L212.1,614.8 L210.4,612.7 L208.8,610.5 L207.3,608.3 L206.0,606.0 L204.8,604.1 L203.9,602.0 L202.8,600.0 L200.8,598.0 L199.2,595.7 L198.0,593.2 L196.8,591.3 L195.5,589.4 L194.1,587.7 L192.7,585.9 L194.3,584.0 L195.0,581.5 L193.4,579.6 L191.9,577.6 L189.5,576.6 L188.3,574.3 L186.3,572.8 L184.7,570.9 L182.8,569.4 L180.3,568.6 L178.4,567.2 L177.0,564.9 L174.7,564.0 L172.2,563.2 L170.4,561.0 L168.0,560.0 L165.1,559.9 L163.0,558.2 L160.6,558.3 L158.4,557.3 L156.0,557.7 L153.6,557.7 L151.4,556.8 L148.9,556.4 L146.5,557.2 L144.1,556.7 L141.7,557.9 L139.2,557.6 L136.8,557.6 L134.0,543.5 L131.6,533.9 L136.5,524.3 L143.7,514.7 L146.1,506.3 L153.3,503.9 L161.7,502.7 L162.9,493.0 L153.3,491.8 L148.5,485.8 L142.5,476.2 L144.9,466.6 L146.1,457.0 L155.7,451.0 L160.5,444.9 L161.7,436.5 L153.3,432.9 L146.1,425.7 L146.1,418.5 L141.3,407.7 L132.8,401.6 L130.4,397.3 L148.5,397.3 L160.5,395.6 L164.1,387.2 L166.5,380.0 L165.3,374.0 L159.6,362.6 L165.3,358.4 L172.4,354.1 L171.0,337.0 L171.0,317.0 L165.3,308.5 L176.0,300.0 L183.0,293.0 L193.0,288.0 L199.5,281.0 L207.5,274.6 L202.4,267.0 L188.5,262.0 L186.0,245.5 L164.5,245.5 L151.8,249.3 L136.6,253.1 L121.5,249.3 L108.8,249.3 L97.4,253.1 L93.6,245.5 L94.9,237.9 L81.0,235.4 L65.8,240.4 L51.9,249.3 Z M697.2,402.9 L699.1,401.4 L701.1,400.1 L702.8,398.4 L705.0,397.6 L707.1,396.4 L708.7,394.6 L710.8,393.6 L712.6,391.8 L714.7,390.3 L716.3,388.2 L718.8,387.2 L721.1,385.9 L723.7,385.1 L726.3,384.3 L728.4,382.4 L730.9,382.2 L733.3,381.4 L735.6,380.8 L738.0,380.0 L740.1,378.8 L742.4,378.9 L744.6,378.6 L746.8,378.4 L744.8,379.5 L743.4,381.6 L741.2,382.4 L743.7,383.0 L746.0,384.0 L742.8,386.4 L745.2,389.6 L747.2,391.2 L749.2,392.8 L751.5,392.1 L753.7,391.1 L755.6,389.6 L758.3,391.4 L761.2,392.8 L761.3,395.7 L760.4,398.4 L758.1,400.1 L756.4,402.4 L754.5,404.5 L753.7,407.2 L752.4,409.6 L751.0,411.7 L749.2,413.6 L748.0,416.0 L746.0,417.6 L743.8,418.7 L741.6,419.8 L740.0,421.8 L738.0,423.2 L735.8,420.9 L733.2,419.2 L731.1,418.2 L728.6,418.7 L726.6,417.1 L724.3,417.1 L722.0,416.8 L720.4,414.2 L719.6,411.2 L717.3,410.1 L715.6,408.3 L714.0,406.4 L711.9,407.3 L709.9,408.1 L708.1,409.6 L706.0,410.4 L704.0,407.9 L701.2,406.4 L699.1,404.8 L697.2,402.9 Z M780.4,373.6 L782.8,373.0 L785.1,371.9 L787.6,372.0 L789.9,372.6 L792.0,371.1 L794.4,372.2 L796.6,371.4 L798.8,371.2 L802.0,373.6 L804.1,375.0 L806.2,376.3 L808.4,377.6 L809.6,379.6 L809.4,382.1 L810.8,384.0 L808.9,385.6 L808.4,388.0 L805.3,386.7 L802.0,386.4 L800.1,385.3 L797.7,384.9 L796.2,382.9 L794.0,382.4 L790.7,381.9 L787.6,380.8 L784.9,379.8 L782.0,380.0 L780.8,376.9 L780.4,373.6 Z M632.4,442.4 L634.2,441.1 L636.3,440.0 L637.4,437.7 L639.5,436.7 L641.8,436.2 L643.9,434.9 L646.2,434.3 L648.5,434.0 L650.9,433.9 L652.6,436.0 L655.2,436.7 L653.5,438.5 L652.8,440.9 L652.3,443.3 L650.9,445.3 L648.7,446.1 L646.5,447.1 L644.6,448.7 L642.4,449.6 L639.5,449.9 L636.6,450.1 L633.8,451.0 L632.6,448.3 L632.4,445.3 L632.4,442.4 Z M642.4,459.5 L647.0,460.0 L653.8,462.4 L649.0,463.5 L643.8,463.8 Z M730.0,431.0 L733.0,430.5 L733.5,433.0 L730.5,433.5 Z" fill="none" stroke="#3a3a3a" stroke-width="1.5" stroke-linejoin="round"/>
<path d="M365.0,156.0 L370.0,153.5 L374.5,154.5 L374.5,160.0 L370.0,163.0 L366.0,162.0 L365.0,156.0 M399.0,192.0 L405.0,188.5 L412.0,189.0 L416.0,193.0 L413.0,198.0 L406.0,199.5 L400.0,197.0 L399.0,192.0 M376.0,177.8 L382.4,179.4 L380.8,184.2 L375.2,182.6 L376.0,177.8 M159.4,135.4 L151.8,146.8 L162.0,160.7 L167.0,164.5 L162.0,172.1 L168.3,178.4 L164.5,196.2 L158.1,206.3 L169.5,211.3 L174.6,221.5 L167.0,229.0 L159.4,236.6 L164.5,245.5 M168.3,178.4 L180.0,178.0 L197.0,172.7 L214.0,171.3 L225.5,172.7 L240.0,171.4 L248.0,169.8 L256.0,167.4 L267.2,165.0 L276.8,160.2 L281.6,156.2 L284.8,157.0 L291.2,156.2 L297.6,154.6 L303.2,153.8 L303.2,146.6 M283.2,158.6 L284.8,165.0 L291.2,169.8 L300.8,170.6 L308.8,171.4 L315.2,174.6 L320.0,179.4 L321.6,184.2 L326.4,187.4 L331.2,188.2 L334.4,185.8 L337.6,188.2 L342.4,187.4 L343.2,182.6 L340.8,177.8 L336.0,177.8 L334.4,174.6 L339.2,171.4 L345.6,168.2 L352.0,164.2 L356.8,161.8 L361.6,163.4 L368.0,162.6 L374.4,159.4 L376.0,155.4 L380.8,152.2 L381.6,149.8 M376.0,155.4 L379.2,160.2 L380.8,166.6 L384.0,173.0 L390.4,177.8 L387.2,181.0 L384.0,185.8 L384.0,189.0 L390.4,192.2 L395.2,195.4 L400.0,196.2 M384.6,199.6 L398.9,202.5 L410.3,205.3 L421.7,196.8 L427.4,193.9 M461.6,151.2 L450.2,165.4 L444.5,176.8 L430.2,188.2 L427.4,196.8 M384.6,197.0 L384.6,219.6 L387.5,231.0 L401.7,236.7 L416.0,241.0 L430.2,236.7 L444.5,231.0 L455.9,228.1 L464.4,231.0 L455.9,238.1 L450.2,242.4 L455.9,245.2 M427.4,196.8 L436.0,208.0 L448.0,216.5 L458.0,223.0 L464.4,231.0 M455.9,245.2 L461.6,242.4 L473.0,248.1 L481.5,245.2 L487.2,236.7 L484.4,219.6 L484.4,208.2 L492.9,202.5 L501.5,196.8 L512.9,189.7 L518.6,179.7 M455.9,245.2 L460.0,260.0 L451.0,269.0 L445.0,281.0 L439.0,287.0 L439.0,296.0 L448.0,299.0 L460.0,303.5 L472.0,314.0 L475.0,332.0 L469.0,338.0 L463.0,350.0 L472.5,361.0 L481.3,366.5 M600.5,186.0 L601.0,191.0 L602.0,199.0 L605.0,201.0 L605.0,210.0 L604.0,215.0 L606.0,219.0 L604.0,225.0 L603.0,235.0 L598.0,245.0 L586.0,260.0 L583.0,272.0 L584.5,281.0 L580.0,293.0 L577.0,300.0 L579.0,308.0 L578.0,316.0 L576.0,324.0 L576.0,328.0 M576.0,328.0 L582.0,332.0 L590.0,338.0 L594.0,340.0 M576.0,328.0 L565.6,329.3 L563.5,327.8 L553.4,323.7 L550.4,324.2 L547.3,329.3 L541.8,331.8 L541.3,334.4 L544.3,337.4 L546.3,342.5 L545.3,349.6 L541.3,353.6 L536.2,357.7 L531.1,359.7 L528.1,365.8 L525.1,370.8 L520.0,372.9 L514.0,376.0 L516.0,382.0 L510.0,384.0 L502.0,378.0 L494.0,376.0 L490.0,374.0 L481.3,366.5 M252.0,365.5 L265.2,361.3 L275.3,356.3 L288.0,361.3 L300.6,358.8 L313.3,353.7 L315.8,338.6 L323.4,328.4 L333.5,318.3 L343.6,310.7 L356.3,300.6 L361.3,298.1 L368.9,293.0 L384.1,290.5 L396.8,288.0 L406.9,293.0 L414.5,298.1 L422.1,303.1 L432.2,303.1 L439.0,298.0 M361.3,298.1 L363.9,310.7 L361.3,323.4 L368.9,333.5 L376.5,343.6 L381.6,351.2 L381.6,361.3 L386.6,368.9 L384.1,374.0 L371.5,371.5 L358.8,374.0 L348.7,379.0 L341.1,381.6 L343.6,377.8 L351.2,368.9 L343.6,366.4 L325.9,358.8 L315.8,356.3 L313.3,353.7 M162.0,359.5 L180.0,353.5 L192.0,349.0 L205.5,343.6 L216.0,350.5 L226.5,355.0 L234.0,356.5 L240.0,359.5 L252.0,365.5 M252.0,365.5 L255.0,382.0 L264.0,391.0 L267.0,400.0 L276.0,409.0 L285.0,415.0 L292.5,412.0 L291.0,421.0 L294.0,428.5 L285.0,433.0 L280.5,442.0 L282.0,451.0 L277.0,458.0 M162.9,493.0 L172.5,497.8 L187.0,502.7 L196.6,503.0 L206.2,506.3 L215.8,505.1 L223.0,500.3 L230.0,495.4 L235.0,495.5 L242.5,494.0 L244.0,482.0 L250.0,473.0 L262.0,467.0 L271.0,461.0 L277.0,458.0 M277.0,458.0 L286.0,464.0 L298.0,471.5 L310.0,477.5 L322.0,482.0 L340.0,480.5 L358.0,479.0 L370.0,477.5 L385.0,476.0 L391.0,476.6 L402.0,472.2 L413.0,473.3 L419.6,482.1 L420.7,493.1 L419.6,499.7 L428.4,502.0 M428.4,502.0 L435.1,495.3 L443.9,488.7 L454.9,484.3 L465.9,482.1 L472.5,484.3 L478.0,477.7 L480.2,468.9 L482.4,461.2 L490.1,457.9 L498.9,457.9 L507.7,462.3 M428.4,502.0 L437.3,508.6 L446.1,513.0 L448.3,522.7 L453.0,531.0 L459.5,539.8 L466.6,545.5 M507.7,462.3 L504.4,471.1 L500.0,482.1 L504.4,488.7 L503.3,499.7 L509.9,508.6 L517.6,515.2 M481.3,366.5 L487.9,363.2 L492.3,367.6 L498.9,370.9 L494.5,375.3 L490.1,385.2 L487.9,394.0 L481.3,398.4 L476.9,402.9 L475.8,411.7 L479.1,416.1 L487.9,418.3 L494.5,422.7 L492.3,433.7 L490.1,438.1 L494.5,444.7 L505.5,444.7 L508.8,453.5 L507.7,462.3 M136.8,557.6 L134.0,543.5 L131.6,533.9 L136.5,524.3 L143.7,514.7 L146.1,506.3 L153.3,503.9 L161.7,502.7 L162.9,493.0 L153.3,491.8 L148.5,485.8 L142.5,476.2 L144.9,466.6 L146.1,457.0 L155.7,451.0 L160.5,444.9 L161.7,436.5 L153.3,432.9 L146.1,425.7 L146.1,418.5 L141.3,407.7 L132.8,401.6 L130.4,397.3 L148.5,397.3 L160.5,395.6 L164.1,387.2 L166.5,380.0 L165.3,374.0 L159.6,362.6 L165.3,358.4 L172.4,354.1 L171.0,337.0 L171.0,317.0 L165.3,308.5 L176.0,300.0 L183.0,293.0 L193.0,288.0 L199.5,281.0 L207.5,274.6 L202.4,267.0 L188.5,262.0 L186.0,245.5 L164.5,245.5 L151.8,249.3 L136.6,253.1 L121.5,249.3 L108.8,249.3 L97.4,253.1 L93.6,245.5 L94.9,237.9 L81.0,235.4 L65.8,240.4 L51.9,249.3 M461.6,146.9 L461.9,151.2 L468.0,152.7 L471.0,155.7 L475.6,155.0 L481.7,155.7 L483.2,160.3 L480.2,166.4 L486.2,166.4 L487.8,169.4 L495.3,171.7 L504.5,174.0 L512.1,175.5 L518.1,177.0 L521.2,180.0 L525.0,183.0 L538.0,185.0 L540.0,186.0 L546.0,184.5 L550.0,186.5 L555.0,190.0 L560.0,194.0 L566.0,193.5 L572.0,192.0 L577.0,193.0 L580.0,196.0 L584.0,193.0 L590.0,194.5 L598.0,194.5 L600.5,186.0 L604.0,183.5 L610.0,186.0 L616.0,188.0 L622.0,189.0 L626.0,189.0 L630.0,192.0 L635.0,193.5 L640.0,193.0 L643.7,195.0 L647.0,209.6 L655.1,211.3 L668.1,211.3 L676.3,209.6 L677.9,216.1 L687.6,212.9 L697.4,216.1 L707.2,219.4 L720.2,214.5 L723.0,214.4 L726.1,211.4 L729.9,210.6 L733.7,209.9 L737.5,209.9 L740.5,212.2 L744.0,213.0" fill="none" stroke="#1a1a1a" stroke-width="1.5" stroke-linejoin="round"/>
</g>
<path d="M0,60.5 H851" stroke="#3a3a3a" stroke-width="1"/>
<path d="M0,730.5 H851" stroke="#2a2a2a" stroke-width="1"/>
<path d="M0.5,60 V731" stroke="#000" stroke-width="1"/>
<path d="M850.5,60 V731" stroke="#000" stroke-width="1"/>
<rect x="862" y="71" width="110" height="654" rx="3" fill="#8a8a8a" filter="url(#sb)"/>
<rect x="859.5" y="68.5" width="110" height="654" rx="3" fill="#fff" stroke="#cdcdcd" stroke-width="1"/>
<text x="914" y="86" text-anchor="middle" style="font-family:'DejaVu Sans',sans-serif;font-size:19px" fill="#111">%</text>
<rect x="864" y="95.5" width="23" height="40" fill="#bfffbf"/>
<text x="897" y="118.9" class="lt">2 - 5</text>
<rect x="864" y="141" width="23" height="40" fill="#b3e6b3"/>
<text x="897" y="164.1" class="lt">5 - 10</text>
<rect x="864" y="186" width="23" height="40" fill="#bbff33"/>
<text x="897" y="209.2" class="lt">10 - 20</text>
<rect x="864" y="231.5" width="23" height="40" fill="#aae600"/>
<text x="897" y="254.3" class="lt">20 - 30</text>
<rect x="864" y="276.5" width="23" height="40" fill="#99d633"/>
<text x="897" y="299.5" class="lt">30 - 40</text>
<rect x="864" y="322" width="23" height="40" fill="#ffff99"/>
<text x="897" y="344.6" class="lt">40 - 50</text>
<rect x="864" y="367" width="23" height="40" fill="#ffff44"/>
<text x="897" y="389.8" class="lt">50 - 60</text>
<rect x="864" y="412.5" width="23" height="40" fill="#ffcc33"/>
<text x="897" y="435.0" class="lt">60 - 70</text>
<rect x="864" y="457.5" width="23" height="40" fill="#ffaa77"/>
<text x="897" y="480.1" class="lt">70 - 80</text>
<rect x="864" y="503" width="23" height="40" fill="#ff8855"/>
<text x="897" y="525.2" class="lt">80 - 90</text>
<rect x="864" y="548" width="23" height="40" fill="#ff6633"/>
<text x="897" y="570.4" class="lt">90 - 100</text>
<text x="22.3" y="723.6" style="font-family:'DejaVu Sans',sans-serif;font-size:15.5px" fill="#4575dc">©</text>
<text x="39.5" y="722" style="font-family:'DejaVu Sans',sans-serif;font-stretch:condensed;font-size:10px" fill="#3f6fd6" textLength="137.5" lengthAdjust="spacing">Agencia Estatal de Meteorología</text>
<text x="202.5" y="722" class="ft" fill="#8a8a8a" textLength="448" lengthAdjust="spacingAndGlyphs">Probabilidad de racha &gt; 120 km/h en 24 h. Validez: 20260214 Pasada modelo: 2026021400</text>
<g>
<rect x="755" y="679.5" width="86.5" height="45" fill="#fff"/>
<text x="759" y="711" style="font-family:'DejaVu Sans',sans-serif;font-size:34px;font-weight:400" fill="#1b3f99" transform="translate(759 711) scale(0.55 1) translate(-759 -711)">A</text>
<text x="782" y="711" style="font-family:'DejaVu Sans',sans-serif;font-size:32px;font-weight:400" fill="#c42a1f" transform="translate(782 711) scale(0.55 1) translate(-782 -711)">E</text>
<text x="795" y="711" style="font-family:'DejaVu Sans',sans-serif;font-size:29px;font-style:italic;font-weight:400" fill="#3b69c0" textLength="44" lengthAdjust="spacingAndGlyphs">Met</text>
<path d="M760.5,711 C766,703 776,698 792,697.5" fill="none" stroke="#f2c500" stroke-width="2" stroke-linecap="round"/>
<text x="759" y="719.5" style="font-family:'DejaVu Sans',sans-serif;font-size:5.5px" fill="#3b69c0" textLength="74.5" lengthAdjust="spacingAndGlyphs">Agencia Estatal de Meteorología</text>
</g>
</svg>
</body></html>
